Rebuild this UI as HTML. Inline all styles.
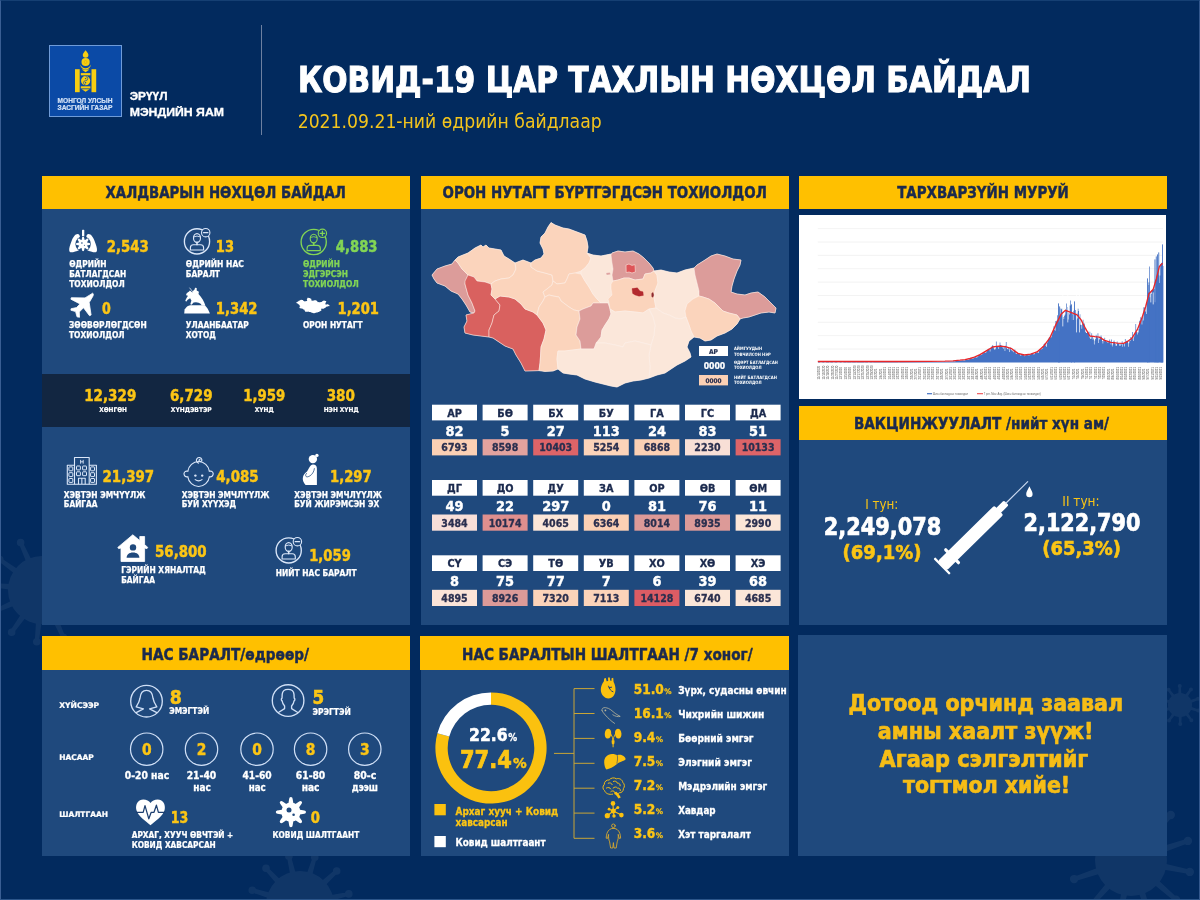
<!DOCTYPE html><html lang="mn"><head><meta charset="utf-8"><title>КОВИД-19 цар тахлын нөхцөл байдал</title><style>
*{margin:0;padding:0;box-sizing:border-box}
html,body{width:1200px;height:900px;overflow:hidden;background:#022a5e}
body{position:relative;font-family:'DejaVu Sans Condensed','DejaVu Sans',sans-serif;font-weight:bold}
.p{position:absolute;background:#1f497d}
.h{position:absolute;background:#ffc000;height:33.5px}
.band{position:absolute;left:42px;top:374px;width:368px;height:53px;background:#122641}
.logo{position:absolute;left:49px;top:45px;width:73px;height:72px;background:#0b4aa6;border:1px solid #6f9bd8}
.vline{position:absolute;left:260.5px;top:25px;width:1.5px;height:110px;background:#6d80a0}
.chart{position:absolute;left:799px;top:215px;width:367px;height:184px;background:#fff}
.frame{position:absolute;left:0;top:0;width:1200px;height:900px;border-style:solid;border-width:1px;border-color:#153f73 #34588d #2c5589 #3a5e93;pointer-events:none}
svg#ov{position:absolute;left:0;top:0}
svg#ov text{font-family:'DejaVu Sans Condensed','DejaVu Sans',sans-serif;font-weight:bold}
</style></head><body>
<svg style="position:absolute;left:0;top:0" width="1200" height="900" viewBox="0 0 1200 900"><g opacity="0.055">
<path d="M1158.59 868.86L1189.37 874.08L1190.24 869.76L1159.86 862.59ZM1189.80 871.92m-4.20 0a4.20 4.20 0 1 0 8.40 0a4.20 4.20 0 1 0 -8.40 0zM1150.46 881.47L1174.51 901.37L1177.42 898.08L1154.70 876.67ZM1175.97 899.73m-4.20 0a4.20 4.20 0 1 0 8.40 0a4.20 4.20 0 1 0 -8.40 0zM1137.12 888.32L1147.99 917.59L1152.16 916.19L1143.19 886.29ZM1150.08 916.89m-4.20 0a4.20 4.20 0 1 0 8.40 0a4.20 4.20 0 1 0 -8.40 0zM1122.14 887.59L1116.92 918.37L1121.24 919.24L1128.41 888.86ZM1119.08 918.80m-4.20 0a4.20 4.20 0 1 0 8.40 0a4.20 4.20 0 1 0 -8.40 0zM1109.53 879.46L1089.63 903.51L1092.92 906.42L1114.33 883.70ZM1091.27 904.97m-4.20 0a4.20 4.20 0 1 0 8.40 0a4.20 4.20 0 1 0 -8.40 0zM1102.68 866.12L1073.41 876.99L1074.81 881.16L1104.71 872.19ZM1074.11 879.08m-4.20 0a4.20 4.20 0 1 0 8.40 0a4.20 4.20 0 1 0 -8.40 0zM1103.41 851.14L1072.63 845.92L1071.76 850.24L1102.14 857.41ZM1072.20 848.08m-4.20 0a4.20 4.20 0 1 0 8.40 0a4.20 4.20 0 1 0 -8.40 0zM1111.54 838.53L1087.49 818.63L1084.58 821.92L1107.30 843.33ZM1086.03 820.27m-4.20 0a4.20 4.20 0 1 0 8.40 0a4.20 4.20 0 1 0 -8.40 0zM1124.88 831.68L1114.01 802.41L1109.84 803.81L1118.81 833.71ZM1111.92 803.11m-4.20 0a4.20 4.20 0 1 0 8.40 0a4.20 4.20 0 1 0 -8.40 0zM1139.86 832.41L1145.08 801.63L1140.76 800.76L1133.59 831.14ZM1142.92 801.20m-4.20 0a4.20 4.20 0 1 0 8.40 0a4.20 4.20 0 1 0 -8.40 0zM1152.47 840.54L1172.37 816.49L1169.08 813.58L1147.67 836.30ZM1170.73 815.03m-4.20 0a4.20 4.20 0 1 0 8.40 0a4.20 4.20 0 1 0 -8.40 0zM1159.32 853.88L1188.59 843.01L1187.19 838.84L1157.29 847.81ZM1187.89 840.92m-4.20 0a4.20 4.20 0 1 0 8.40 0a4.20 4.20 0 1 0 -8.40 0z" fill="#fff"/>
<circle cx="1131.00" cy="860.00" r="36.00" fill="#fff"/>
<path d="M68.76 595.70L93.54 597.18L93.94 593.20L69.36 589.73ZM93.74 595.19m-3.80 0a3.80 3.80 0 1 0 7.60 0a3.80 3.80 0 1 0 -7.60 0zM62.33 608.32L83.04 621.99L85.38 618.74L65.83 603.45ZM84.21 620.37m-3.80 0a3.80 3.80 0 1 0 7.60 0a3.80 3.80 0 1 0 -7.60 0zM50.45 616.03L61.55 638.23L65.20 636.58L55.92 613.56ZM63.37 637.40m-3.80 0a3.80 3.80 0 1 0 7.60 0a3.80 3.80 0 1 0 -7.60 0zM36.30 616.76L34.82 641.54L38.80 641.94L42.27 617.36ZM36.81 641.74m-3.80 0a3.80 3.80 0 1 0 7.60 0a3.80 3.80 0 1 0 -7.60 0zM23.68 610.33L10.01 631.04L13.26 633.38L28.55 613.83ZM11.63 632.21m-3.80 0a3.80 3.80 0 1 0 7.60 0a3.80 3.80 0 1 0 -7.60 0zM15.97 598.45L-6.23 609.55L-4.58 613.20L18.44 603.92ZM-5.40 611.37m-3.80 0a3.80 3.80 0 1 0 7.60 0a3.80 3.80 0 1 0 -7.60 0zM15.24 584.30L-9.54 582.82L-9.94 586.80L14.64 590.27ZM-9.74 584.81m-3.80 0a3.80 3.80 0 1 0 7.60 0a3.80 3.80 0 1 0 -7.60 0zM21.67 571.68L0.96 558.01L-1.38 561.26L18.17 576.55ZM-0.21 559.63m-3.80 0a3.80 3.80 0 1 0 7.60 0a3.80 3.80 0 1 0 -7.60 0zM33.55 563.97L22.45 541.77L18.80 543.42L28.08 566.44ZM20.63 542.60m-3.80 0a3.80 3.80 0 1 0 7.60 0a3.80 3.80 0 1 0 -7.60 0zM47.70 563.24L49.18 538.46L45.20 538.06L41.73 562.64ZM47.19 538.26m-3.80 0a3.80 3.80 0 1 0 7.60 0a3.80 3.80 0 1 0 -7.60 0zM60.32 569.67L73.99 548.96L70.74 546.62L55.45 566.17ZM72.37 547.79m-3.80 0a3.80 3.80 0 1 0 7.60 0a3.80 3.80 0 1 0 -7.60 0zM68.03 581.55L90.23 570.45L88.58 566.80L65.56 576.08ZM89.40 568.63m-3.80 0a3.80 3.80 0 1 0 7.60 0a3.80 3.80 0 1 0 -7.60 0z" fill="#fff"/>
<circle cx="42.00" cy="590.00" r="34.00" fill="#fff"/>
<path d="M325.10 915.90L347.18 921.69L348.36 917.87L326.87 910.17ZM347.77 919.78m-3.80 0a3.80 3.80 0 1 0 7.60 0a3.80 3.80 0 1 0 -7.60 0zM316.28 926.99L332.51 943.04L335.45 940.32L320.69 922.92ZM333.98 941.68m-3.80 0a3.80 3.80 0 1 0 7.60 0a3.80 3.80 0 1 0 -7.60 0zM303.11 932.19L309.14 954.20L313.04 953.31L308.96 930.86ZM311.09 953.76m-3.80 0a3.80 3.80 0 1 0 7.60 0a3.80 3.80 0 1 0 -7.60 0zM289.10 930.10L283.31 952.18L287.13 953.36L294.83 931.87ZM285.22 952.77m-3.80 0a3.80 3.80 0 1 0 7.60 0a3.80 3.80 0 1 0 -7.60 0zM278.01 921.28L261.96 937.51L264.68 940.45L282.08 925.69ZM263.32 938.98m-3.80 0a3.80 3.80 0 1 0 7.60 0a3.80 3.80 0 1 0 -7.60 0zM272.81 908.11L250.80 914.14L251.69 918.04L274.14 913.96ZM251.24 916.09m-3.80 0a3.80 3.80 0 1 0 7.60 0a3.80 3.80 0 1 0 -7.60 0zM274.90 894.10L252.82 888.31L251.64 892.13L273.13 899.83ZM252.23 890.22m-3.80 0a3.80 3.80 0 1 0 7.60 0a3.80 3.80 0 1 0 -7.60 0zM283.72 883.01L267.49 866.96L264.55 869.68L279.31 887.08ZM266.02 868.32m-3.80 0a3.80 3.80 0 1 0 7.60 0a3.80 3.80 0 1 0 -7.60 0zM296.89 877.81L290.86 855.80L286.96 856.69L291.04 879.14ZM288.91 856.24m-3.80 0a3.80 3.80 0 1 0 7.60 0a3.80 3.80 0 1 0 -7.60 0zM310.90 879.90L316.69 857.82L312.87 856.64L305.17 878.13ZM314.78 857.23m-3.80 0a3.80 3.80 0 1 0 7.60 0a3.80 3.80 0 1 0 -7.60 0zM321.99 888.72L338.04 872.49L335.32 869.55L317.92 884.31ZM336.68 871.02m-3.80 0a3.80 3.80 0 1 0 7.60 0a3.80 3.80 0 1 0 -7.60 0zM327.19 901.89L349.20 895.86L348.31 891.96L325.86 896.04ZM348.76 893.91m-3.80 0a3.80 3.80 0 1 0 7.60 0a3.80 3.80 0 1 0 -7.60 0z" fill="#fff"/>
<circle cx="300.00" cy="905.00" r="34.00" fill="#fff"/>
<path d="M1188.70 709.37L1197.83 711.67L1198.48 709.56L1189.64 706.31ZM1198.15 710.61m-2.00 0a2.00 2.00 0 1 0 4.00 0a2.00 2.00 0 1 0 -4.00 0zM1184.47 713.64L1190.50 720.87L1192.27 719.55L1187.03 711.73ZM1191.38 720.21m-2.00 0a2.00 2.00 0 1 0 4.00 0a2.00 2.00 0 1 0 -4.00 0zM1178.54 714.62L1179.17 724.01L1181.37 723.98L1181.74 714.58ZM1180.27 724.00m-2.00 0a2.00 2.00 0 1 0 4.00 0a2.00 2.00 0 1 0 -4.00 0zM1173.16 711.92L1168.15 719.89L1169.95 721.16L1175.78 713.77ZM1169.05 720.53m-2.00 0a2.00 2.00 0 1 0 4.00 0a2.00 2.00 0 1 0 -4.00 0zM1170.40 706.58L1161.66 710.09L1162.37 712.17L1171.43 709.61ZM1162.01 711.13m-2.00 0a2.00 2.00 0 1 0 4.00 0a2.00 2.00 0 1 0 -4.00 0zM1171.30 700.63L1162.17 698.33L1161.52 700.44L1170.36 703.69ZM1161.85 699.39m-2.00 0a2.00 2.00 0 1 0 4.00 0a2.00 2.00 0 1 0 -4.00 0zM1175.53 696.36L1169.50 689.13L1167.73 690.45L1172.97 698.27ZM1168.62 689.79m-2.00 0a2.00 2.00 0 1 0 4.00 0a2.00 2.00 0 1 0 -4.00 0zM1181.46 695.38L1180.83 685.99L1178.63 686.02L1178.26 695.42ZM1179.73 686.00m-2.00 0a2.00 2.00 0 1 0 4.00 0a2.00 2.00 0 1 0 -4.00 0zM1186.84 698.08L1191.85 690.11L1190.05 688.84L1184.22 696.23ZM1190.95 689.47m-2.00 0a2.00 2.00 0 1 0 4.00 0a2.00 2.00 0 1 0 -4.00 0zM1189.60 703.42L1198.34 699.91L1197.63 697.83L1188.57 700.39ZM1197.99 698.87m-2.00 0a2.00 2.00 0 1 0 4.00 0a2.00 2.00 0 1 0 -4.00 0z" fill="#fff"/>
<circle cx="1180.00" cy="705.00" r="12.00" fill="#fff"/>
</g></svg>
<div class="logo"></div><div class="vline"></div>
<div class="h" style="left:42px;top:176px;width:368px;height:33px"></div>
<div class="p" style="left:42px;top:209px;width:368px;height:416px"></div><div class="band"></div>
<div class="h" style="left:421px;top:176px;width:368px;height:33px"></div>
<div class="p" style="left:421px;top:209px;width:368px;height:416px"></div>
<div class="h" style="left:799px;top:176px;width:368px;height:33px"></div>
<div class="chart"></div>
<div class="h" style="left:799px;top:406px;width:368px;height:34px"></div>
<div class="p" style="left:799px;top:440px;width:368px;height:185px"></div>
<div class="h" style="left:42px;top:636px;width:368px;height:34px"></div>
<div class="p" style="left:42px;top:670px;width:368px;height:186px"></div>
<div class="h" style="left:420px;top:636px;width:369px;height:34px"></div>
<div class="p" style="left:421px;top:670px;width:368px;height:186px"></div>
<div class="p" style="left:798px;top:635px;width:369px;height:221px"></div>
<svg id="ov" width="1200" height="900" viewBox="0 0 1200 900">
<g id="panel-titles">
<text x="105.6" y="198.2" font-size="16" fill="#1b2a4e" textLength="240.3" lengthAdjust="spacingAndGlyphs" stroke="#1b2a4e" stroke-width="0.45">ХАЛДВАРЫН НӨХЦӨЛ БАЙДАЛ</text>
<text x="442.5" y="198.2" font-size="16" fill="#1b2a4e" textLength="324.3" lengthAdjust="spacingAndGlyphs" stroke="#1b2a4e" stroke-width="0.45">ОРОН НУТАГТ БҮРТГЭГДСЭН ТОХИОЛДОЛ</text>
<text x="897.2" y="198.2" font-size="16" fill="#1b2a4e" textLength="171.6" lengthAdjust="spacingAndGlyphs" stroke="#1b2a4e" stroke-width="0.45">ТАРХВАРЗҮЙН МУРУЙ</text>
<text x="854.0" y="429.0" font-size="16" fill="#1b2a4e" textLength="255.0" lengthAdjust="spacingAndGlyphs" stroke="#1b2a4e" stroke-width="0.45">ВАКЦИНЖУУЛАЛТ /нийт хүн ам/</text>
<text x="141.5" y="660.1" font-size="16" fill="#1b2a4e" textLength="167.5" lengthAdjust="spacingAndGlyphs" stroke="#1b2a4e" stroke-width="0.45">НАС БАРАЛТ/өдрөөр/</text>
<text x="462.0" y="660.1" font-size="16" fill="#1b2a4e" textLength="290.6" lengthAdjust="spacingAndGlyphs" stroke="#1b2a4e" stroke-width="0.45">НАС БАРАЛТЫН ШАЛТГААН /7 хоног/</text>
</g>
<g id="header">
<text x="57.5" y="102.5" font-size="7.6" fill="#d3e2f6" textLength="55.0" lengthAdjust="spacingAndGlyphs" style="font-family:'Liberation Sans',sans-serif;" stroke="#d3e2f6" stroke-width="0.21">МОНГОЛ УЛСЫН</text>
<text x="57.5" y="110.3" font-size="7.6" fill="#d3e2f6" textLength="55.0" lengthAdjust="spacingAndGlyphs" style="font-family:'Liberation Sans',sans-serif;" stroke="#d3e2f6" stroke-width="0.21">ЗАСГИЙН ГАЗАР</text>
<text x="129.7" y="100.2" font-size="11.6" fill="#ffffff" textLength="37.8" lengthAdjust="spacingAndGlyphs" style="font-family:'Liberation Sans',sans-serif;" stroke="#ffffff" stroke-width="0.32">ЭРҮҮЛ</text>
<text x="129.7" y="115.8" font-size="11.6" fill="#ffffff" textLength="94.3" lengthAdjust="spacingAndGlyphs" style="font-family:'Liberation Sans',sans-serif;" stroke="#ffffff" stroke-width="0.32">МЭНДИЙН ЯАМ</text>
<text x="298.0" y="92.0" font-size="35.4" fill="#ffffff" textLength="733.0" lengthAdjust="spacingAndGlyphs" stroke="#ffffff" stroke-width="0.99">КОВИД-19 ЦАР ТАХЛЫН НӨХЦӨЛ БАЙДАЛ</text>
<text x="297.7" y="128.4" font-size="19.8" fill="#f3c41d" textLength="304.0" lengthAdjust="spacingAndGlyphs" style="font-weight:normal;">2021.09.21-ний өдрийн байдлаар</text>
</g>
<g id="left">
<text x="106.7" y="252.0" font-size="15.2" fill="#fbc515" textLength="42.0" lengthAdjust="spacingAndGlyphs" stroke="#fbc515" stroke-width="0.43">2,543</text>
<text x="215.8" y="252.0" font-size="15.2" fill="#fbc515" textLength="18.2" lengthAdjust="spacingAndGlyphs" stroke="#fbc515" stroke-width="0.43">13</text>
<text x="335.8" y="252.0" font-size="15.2" fill="#82d555" textLength="41.7" lengthAdjust="spacingAndGlyphs" stroke="#82d555" stroke-width="0.43">4,883</text>
<text x="102.0" y="313.5" font-size="15.2" fill="#fbc515" textLength="8.8" lengthAdjust="spacingAndGlyphs" stroke="#fbc515" stroke-width="0.43">0</text>
<text x="215.8" y="313.5" font-size="15.2" fill="#fbc515" textLength="41.7" lengthAdjust="spacingAndGlyphs" stroke="#fbc515" stroke-width="0.43">1,342</text>
<text x="337.5" y="313.5" font-size="15.2" fill="#fbc515" textLength="41.5" lengthAdjust="spacingAndGlyphs" stroke="#fbc515" stroke-width="0.43">1,201</text>
<text x="69.2" y="266.7" font-size="8.8" fill="#ffffff" textLength="37.2" lengthAdjust="spacingAndGlyphs" stroke="#ffffff" stroke-width="0.25">ӨДРИЙН</text>
<text x="69.2" y="276.7" font-size="8.8" fill="#ffffff" textLength="57.0" lengthAdjust="spacingAndGlyphs" stroke="#ffffff" stroke-width="0.25">БАТЛАГДСАН</text>
<text x="69.2" y="286.7" font-size="8.8" fill="#ffffff" textLength="55.5" lengthAdjust="spacingAndGlyphs" stroke="#ffffff" stroke-width="0.25">ТОХИОЛДОЛ</text>
<text x="185.8" y="266.7" font-size="8.8" fill="#ffffff" textLength="58.0" lengthAdjust="spacingAndGlyphs" stroke="#ffffff" stroke-width="0.25">ӨДРИЙН НАС</text>
<text x="185.8" y="276.7" font-size="8.8" fill="#ffffff" textLength="34.2" lengthAdjust="spacingAndGlyphs" stroke="#ffffff" stroke-width="0.25">БАРАЛТ</text>
<text x="303.0" y="266.7" font-size="8.8" fill="#82d555" textLength="37.0" lengthAdjust="spacingAndGlyphs" stroke="#82d555" stroke-width="0.25">ӨДРИЙН</text>
<text x="303.0" y="276.7" font-size="8.8" fill="#82d555" textLength="45.0" lengthAdjust="spacingAndGlyphs" stroke="#82d555" stroke-width="0.25">ЭДГЭРСЭН</text>
<text x="303.0" y="286.7" font-size="8.8" fill="#82d555" textLength="55.7" lengthAdjust="spacingAndGlyphs" stroke="#82d555" stroke-width="0.25">ТОХИОЛДОЛ</text>
<text x="69.0" y="328.0" font-size="8.8" fill="#ffffff" textLength="77.7" lengthAdjust="spacingAndGlyphs" stroke="#ffffff" stroke-width="0.25">ЗӨӨВӨРЛӨГДСӨН</text>
<text x="69.0" y="338.0" font-size="8.8" fill="#ffffff" textLength="55.5" lengthAdjust="spacingAndGlyphs" stroke="#ffffff" stroke-width="0.25">ТОХИОЛДОЛ</text>
<text x="185.8" y="328.0" font-size="8.8" fill="#ffffff" textLength="62.9" lengthAdjust="spacingAndGlyphs" stroke="#ffffff" stroke-width="0.25">УЛААНБААТАР</text>
<text x="185.8" y="338.0" font-size="8.8" fill="#ffffff" textLength="30.0" lengthAdjust="spacingAndGlyphs" stroke="#ffffff" stroke-width="0.25">ХОТОД</text>
<text x="303.0" y="328.0" font-size="8.8" fill="#ffffff" textLength="59.5" lengthAdjust="spacingAndGlyphs" stroke="#ffffff" stroke-width="0.25">ОРОН НУТАГТ</text>
<text x="84.2" y="400.8" font-size="15" fill="#fbc515" textLength="52.1" lengthAdjust="spacingAndGlyphs" stroke="#fbc515" stroke-width="0.42">12,329</text>
<text x="170.0" y="400.8" font-size="15" fill="#fbc515" textLength="42.5" lengthAdjust="spacingAndGlyphs" stroke="#fbc515" stroke-width="0.42">6,729</text>
<text x="243.3" y="400.8" font-size="15" fill="#fbc515" textLength="42.0" lengthAdjust="spacingAndGlyphs" stroke="#fbc515" stroke-width="0.42">1,959</text>
<text x="326.7" y="400.8" font-size="15" fill="#fbc515" textLength="28.3" lengthAdjust="spacingAndGlyphs" stroke="#fbc515" stroke-width="0.42">380</text>
<text x="99.2" y="412.0" font-size="6.6" fill="#ffffff" textLength="27.8" lengthAdjust="spacingAndGlyphs" stroke="#ffffff" stroke-width="0.18">ХӨНГӨН</text>
<text x="170.8" y="412.0" font-size="6.6" fill="#ffffff" textLength="40.9" lengthAdjust="spacingAndGlyphs" stroke="#ffffff" stroke-width="0.18">ХҮНДЭВТЭР</text>
<text x="254.7" y="412.0" font-size="6.6" fill="#ffffff" textLength="19.0" lengthAdjust="spacingAndGlyphs" stroke="#ffffff" stroke-width="0.18">ХҮНД</text>
<text x="323.7" y="412.0" font-size="6.6" fill="#ffffff" textLength="35.0" lengthAdjust="spacingAndGlyphs" stroke="#ffffff" stroke-width="0.18">НЭН ХҮНД</text>
<text x="102.5" y="481.7" font-size="15.2" fill="#fbc515" textLength="51.7" lengthAdjust="spacingAndGlyphs" stroke="#fbc515" stroke-width="0.43">21,397</text>
<text x="216.3" y="481.7" font-size="15.2" fill="#fbc515" textLength="42.4" lengthAdjust="spacingAndGlyphs" stroke="#fbc515" stroke-width="0.43">4,085</text>
<text x="330.0" y="481.7" font-size="15.2" fill="#fbc515" textLength="41.7" lengthAdjust="spacingAndGlyphs" stroke="#fbc515" stroke-width="0.43">1,297</text>
<text x="63.8" y="497.5" font-size="8.8" fill="#ffffff" textLength="81.5" lengthAdjust="spacingAndGlyphs" stroke="#ffffff" stroke-width="0.25">ХЭВТЭН ЭМЧҮҮЛЖ</text>
<text x="63.8" y="507.2" font-size="8.8" fill="#ffffff" textLength="33.7" lengthAdjust="spacingAndGlyphs" stroke="#ffffff" stroke-width="0.25">БАЙГАА</text>
<text x="181.7" y="497.5" font-size="8.8" fill="#ffffff" textLength="87.8" lengthAdjust="spacingAndGlyphs" stroke="#ffffff" stroke-width="0.25">ХЭВТЭН ЭМЧЛҮҮЛЖ</text>
<text x="181.7" y="507.2" font-size="8.8" fill="#ffffff" textLength="54.5" lengthAdjust="spacingAndGlyphs" stroke="#ffffff" stroke-width="0.25">БУЙ ХҮҮХЭД</text>
<text x="294.2" y="497.5" font-size="8.8" fill="#ffffff" textLength="87.8" lengthAdjust="spacingAndGlyphs" stroke="#ffffff" stroke-width="0.25">ХЭВТЭН ЭМЧЛҮҮЛЖ</text>
<text x="294.2" y="507.2" font-size="8.8" fill="#ffffff" textLength="85.0" lengthAdjust="spacingAndGlyphs" stroke="#ffffff" stroke-width="0.25">БУЙ ЖИРЭМСЭН ЭХ</text>
<text x="155.0" y="557.0" font-size="15.2" fill="#fbc515" textLength="51.7" lengthAdjust="spacingAndGlyphs" stroke="#fbc515" stroke-width="0.43">56,800</text>
<text x="121.2" y="573.3" font-size="8.8" fill="#ffffff" textLength="84.6" lengthAdjust="spacingAndGlyphs" stroke="#ffffff" stroke-width="0.25">ГЭРИЙН ХЯНАЛТАД</text>
<text x="121.2" y="583.0" font-size="8.8" fill="#ffffff" textLength="33.8" lengthAdjust="spacingAndGlyphs" stroke="#ffffff" stroke-width="0.25">БАЙГАА</text>
<text x="309.2" y="561.3" font-size="15.2" fill="#fbc515" textLength="41.6" lengthAdjust="spacingAndGlyphs" stroke="#fbc515" stroke-width="0.43">1,059</text>
<text x="275.8" y="575.8" font-size="8.8" fill="#ffffff" textLength="80.9" lengthAdjust="spacingAndGlyphs" stroke="#ffffff" stroke-width="0.25">НИЙТ НАС БАРАЛТ</text>
</g>
<g id="deaths">
<text x="59.2" y="708.0" font-size="7.9" fill="#ffffff" textLength="40.0" lengthAdjust="spacingAndGlyphs" stroke="#ffffff" stroke-width="0.22">ХҮЙСЭЭР</text>
<text x="59.2" y="760.0" font-size="7.9" fill="#ffffff" textLength="34.5" lengthAdjust="spacingAndGlyphs" stroke="#ffffff" stroke-width="0.22">НАСААР</text>
<text x="59.2" y="816.7" font-size="7.9" fill="#ffffff" textLength="48.8" lengthAdjust="spacingAndGlyphs" stroke="#ffffff" stroke-width="0.22">ШАЛТГААН</text>
<text x="169.7" y="703.7" font-size="19" fill="#fbc515" textLength="12.0" lengthAdjust="spacingAndGlyphs" stroke="#fbc515" stroke-width="0.53">8</text>
<text x="169.2" y="714.4" font-size="8.7" fill="#ffffff" textLength="40.0" lengthAdjust="spacingAndGlyphs" stroke="#ffffff" stroke-width="0.24">ЭМЭГТЭЙ</text>
<text x="312.5" y="703.7" font-size="19" fill="#fbc515" textLength="11.7" lengthAdjust="spacingAndGlyphs" stroke="#fbc515" stroke-width="0.53">5</text>
<text x="312.5" y="714.8" font-size="8.7" fill="#ffffff" textLength="38.3" lengthAdjust="spacingAndGlyphs" stroke="#ffffff" stroke-width="0.24">ЭРЭГТЭЙ</text>
<text x="146.7" y="755.4" font-size="15.4" fill="#fbc515" text-anchor="middle" stroke="#fbc515" stroke-width="0.43">0</text>
<text x="201.5" y="755.4" font-size="15.4" fill="#fbc515" text-anchor="middle" stroke="#fbc515" stroke-width="0.43">2</text>
<text x="257.0" y="755.4" font-size="15.4" fill="#fbc515" text-anchor="middle" stroke="#fbc515" stroke-width="0.43">0</text>
<text x="310.6" y="755.4" font-size="15.4" fill="#fbc515" text-anchor="middle" stroke="#fbc515" stroke-width="0.43">8</text>
<text x="364.8" y="755.4" font-size="15.4" fill="#fbc515" text-anchor="middle" stroke="#fbc515" stroke-width="0.43">3</text>
<text x="124.7" y="779.0" font-size="10" fill="#ffffff" textLength="44.5" lengthAdjust="spacingAndGlyphs" stroke="#ffffff" stroke-width="0.28">0-20 нас</text>
<text x="186.7" y="779.0" font-size="10" fill="#ffffff" textLength="29.6" lengthAdjust="spacingAndGlyphs" stroke="#ffffff" stroke-width="0.28">21-40</text>
<text x="242.5" y="779.0" font-size="10" fill="#ffffff" textLength="29.2" lengthAdjust="spacingAndGlyphs" stroke="#ffffff" stroke-width="0.28">41-60</text>
<text x="295.8" y="779.0" font-size="10" fill="#ffffff" textLength="29.5" lengthAdjust="spacingAndGlyphs" stroke="#ffffff" stroke-width="0.28">61-80</text>
<text x="353.8" y="779.0" font-size="10" fill="#ffffff" textLength="22.5" lengthAdjust="spacingAndGlyphs" stroke="#ffffff" stroke-width="0.28">80-с</text>
<text x="193.3" y="790.8" font-size="10" fill="#ffffff" textLength="17.5" lengthAdjust="spacingAndGlyphs" stroke="#ffffff" stroke-width="0.28">нас</text>
<text x="248.7" y="790.8" font-size="10" fill="#ffffff" textLength="17.1" lengthAdjust="spacingAndGlyphs" stroke="#ffffff" stroke-width="0.28">нас</text>
<text x="301.7" y="790.8" font-size="10" fill="#ffffff" textLength="17.8" lengthAdjust="spacingAndGlyphs" stroke="#ffffff" stroke-width="0.28">нас</text>
<text x="351.7" y="790.8" font-size="10" fill="#ffffff" textLength="26.3" lengthAdjust="spacingAndGlyphs" stroke="#ffffff" stroke-width="0.28">дээш</text>
<text x="170.8" y="822.5" font-size="15" fill="#fbc515" textLength="17.5" lengthAdjust="spacingAndGlyphs" stroke="#fbc515" stroke-width="0.42">13</text>
<text x="310.8" y="822.5" font-size="15" fill="#fbc515" textLength="9.2" lengthAdjust="spacingAndGlyphs" stroke="#fbc515" stroke-width="0.42">0</text>
<text x="131.7" y="838.3" font-size="8.7" fill="#ffffff" textLength="101.6" lengthAdjust="spacingAndGlyphs" stroke="#ffffff" stroke-width="0.24">АРХАГ, ХУУЧ ӨВЧТЭЙ +</text>
<text x="131.7" y="848.0" font-size="8.7" fill="#ffffff" textLength="84.1" lengthAdjust="spacingAndGlyphs" stroke="#ffffff" stroke-width="0.24">КОВИД ХАВСАРСАН</text>
<text x="272.5" y="838.0" font-size="8.7" fill="#ffffff" textLength="86.7" lengthAdjust="spacingAndGlyphs" stroke="#ffffff" stroke-width="0.24">КОВИД ШАЛТГААНТ</text>
</g>
<g id="causes">
<text x="469.0" y="740.7" font-size="18.4" fill="#ffffff" textLength="38.6" lengthAdjust="spacingAndGlyphs" stroke="#ffffff" stroke-width="0.52">22.6</text>
<text x="508.2" y="740.7" font-size="10" fill="#ffffff" textLength="8.9" lengthAdjust="spacingAndGlyphs" stroke="#ffffff" stroke-width="0.28">%</text>
<text x="460.0" y="768.2" font-size="24.6" fill="#fbc515" textLength="51.8" lengthAdjust="spacingAndGlyphs" stroke="#fbc515" stroke-width="0.69">77.4</text>
<text x="512.9" y="768.2" font-size="14.6" fill="#fbc515" textLength="13.7" lengthAdjust="spacingAndGlyphs" stroke="#fbc515" stroke-width="0.41">%</text>
<text x="455.5" y="814.6" font-size="11" fill="#fbc515" textLength="102.8" lengthAdjust="spacingAndGlyphs" stroke="#fbc515" stroke-width="0.31">Архаг хууч + Ковид</text>
<text x="455.5" y="826.2" font-size="11" fill="#fbc515" textLength="52.1" lengthAdjust="spacingAndGlyphs" stroke="#fbc515" stroke-width="0.31">хавсарсан</text>
<text x="455.5" y="846.3" font-size="11" fill="#ffffff" textLength="90.1" lengthAdjust="spacingAndGlyphs" stroke="#ffffff" stroke-width="0.31">Ковид шалтгаант</text>
<text x="633.7" y="693.6" font-size="13.6" fill="#fbc515" textLength="30.2" lengthAdjust="spacingAndGlyphs" stroke="#fbc515" stroke-width="0.38">51.0</text>
<text x="664.2" y="693.6" font-size="7.6" fill="#fbc515" textLength="7.3" lengthAdjust="spacingAndGlyphs" stroke="#fbc515" stroke-width="0.21">%</text>
<text x="678.2" y="693.6" font-size="11.1" fill="#ffffff" textLength="108.5" lengthAdjust="spacingAndGlyphs" stroke="#ffffff" stroke-width="0.31">Зүрх, судасны өвчин</text>
<text x="633.7" y="717.7" font-size="13.6" fill="#fbc515" textLength="30.2" lengthAdjust="spacingAndGlyphs" stroke="#fbc515" stroke-width="0.38">16.1</text>
<text x="664.2" y="717.7" font-size="7.6" fill="#fbc515" textLength="7.3" lengthAdjust="spacingAndGlyphs" stroke="#fbc515" stroke-width="0.21">%</text>
<text x="678.2" y="717.7" font-size="11.1" fill="#ffffff" textLength="86.0" lengthAdjust="spacingAndGlyphs" stroke="#ffffff" stroke-width="0.31">Чихрийн шижин</text>
<text x="633.7" y="741.8" font-size="13.6" fill="#fbc515" textLength="21.7" lengthAdjust="spacingAndGlyphs" stroke="#fbc515" stroke-width="0.38">9.4</text>
<text x="655.7" y="741.8" font-size="7.6" fill="#fbc515" textLength="7.3" lengthAdjust="spacingAndGlyphs" stroke="#fbc515" stroke-width="0.21">%</text>
<text x="678.2" y="741.8" font-size="11.1" fill="#ffffff" textLength="75.4" lengthAdjust="spacingAndGlyphs" stroke="#ffffff" stroke-width="0.31">Бөөрний эмгэг</text>
<text x="633.7" y="765.9" font-size="13.6" fill="#fbc515" textLength="21.7" lengthAdjust="spacingAndGlyphs" stroke="#fbc515" stroke-width="0.38">7.5</text>
<text x="655.7" y="765.9" font-size="7.6" fill="#fbc515" textLength="7.3" lengthAdjust="spacingAndGlyphs" stroke="#fbc515" stroke-width="0.21">%</text>
<text x="678.2" y="765.9" font-size="11.1" fill="#ffffff" textLength="73.8" lengthAdjust="spacingAndGlyphs" stroke="#ffffff" stroke-width="0.31">Элэгний эмгэг</text>
<text x="633.7" y="790.0" font-size="13.6" fill="#fbc515" textLength="21.7" lengthAdjust="spacingAndGlyphs" stroke="#fbc515" stroke-width="0.38">7.2</text>
<text x="655.7" y="790.0" font-size="7.6" fill="#fbc515" textLength="7.3" lengthAdjust="spacingAndGlyphs" stroke="#fbc515" stroke-width="0.21">%</text>
<text x="678.2" y="790.0" font-size="11.1" fill="#ffffff" textLength="89.1" lengthAdjust="spacingAndGlyphs" stroke="#ffffff" stroke-width="0.31">Мэдрэлийн эмгэг</text>
<text x="633.7" y="814.1" font-size="13.6" fill="#fbc515" textLength="21.7" lengthAdjust="spacingAndGlyphs" stroke="#fbc515" stroke-width="0.38">5.2</text>
<text x="655.7" y="814.1" font-size="7.6" fill="#fbc515" textLength="7.3" lengthAdjust="spacingAndGlyphs" stroke="#fbc515" stroke-width="0.21">%</text>
<text x="678.2" y="814.1" font-size="11.1" fill="#ffffff" textLength="37.4" lengthAdjust="spacingAndGlyphs" stroke="#ffffff" stroke-width="0.31">Хавдар</text>
<text x="633.7" y="838.2" font-size="13.6" fill="#fbc515" textLength="21.7" lengthAdjust="spacingAndGlyphs" stroke="#fbc515" stroke-width="0.38">3.6</text>
<text x="655.7" y="838.2" font-size="7.6" fill="#fbc515" textLength="7.3" lengthAdjust="spacingAndGlyphs" stroke="#fbc515" stroke-width="0.21">%</text>
<text x="678.2" y="838.2" font-size="11.1" fill="#ffffff" textLength="72.7" lengthAdjust="spacingAndGlyphs" stroke="#ffffff" stroke-width="0.31">Хэт таргалалт</text>
</g>
<g id="right">
<text x="881.8" y="509.3" font-size="13.6" fill="#fbc515" text-anchor="middle" textLength="33.2" lengthAdjust="spacingAndGlyphs" style="font-weight:normal;">I тун:</text>
<text x="823.8" y="534.7" font-size="24" fill="#ffffff" textLength="117.4" lengthAdjust="spacingAndGlyphs" stroke="#ffffff" stroke-width="0.67">2,249,078</text>
<text x="842.6" y="558.5" font-size="19.4" fill="#fbc515" textLength="79.0" lengthAdjust="spacingAndGlyphs" stroke="#fbc515" stroke-width="0.54">(69,1%)</text>
<text x="1081.0" y="505.8" font-size="13.6" fill="#fbc515" text-anchor="middle" textLength="37.3" lengthAdjust="spacingAndGlyphs" style="font-weight:normal;">II тун:</text>
<text x="1023.6" y="531.3" font-size="24" fill="#ffffff" textLength="116.8" lengthAdjust="spacingAndGlyphs" stroke="#ffffff" stroke-width="0.67">2,122,790</text>
<text x="1042.3" y="554.8" font-size="19.4" fill="#fbc515" textLength="78.7" lengthAdjust="spacingAndGlyphs" stroke="#fbc515" stroke-width="0.54">(65,3%)</text>
<text x="848.6" y="711.3" font-size="23" fill="#f6bd16" textLength="274.6" lengthAdjust="spacingAndGlyphs" stroke="#f6bd16" stroke-width="0.64">Дотоод орчинд заавал</text>
<text x="877.8" y="738.5" font-size="23" fill="#f6bd16" textLength="215.7" lengthAdjust="spacingAndGlyphs" stroke="#f6bd16" stroke-width="0.64">амны хаалт зүүж!</text>
<text x="879.6" y="766.9" font-size="23" fill="#f6bd16" textLength="208.7" lengthAdjust="spacingAndGlyphs" stroke="#f6bd16" stroke-width="0.64">Агаар сэлгэлтийг</text>
<text x="903.1" y="792.7" font-size="23" fill="#f6bd16" textLength="167.1" lengthAdjust="spacingAndGlyphs" stroke="#f6bd16" stroke-width="0.64">тогтмол хийе!</text>
</g>
<g id="aimag-table">
<rect x="432.0" y="404.7" width="45" height="15.7" fill="#fff"/>
<text x="454.5" y="416.7" font-size="10.8" fill="#1b2a4e" text-anchor="middle" stroke="#1b2a4e" stroke-width="0.30">АР</text>
<text x="454.5" y="435.8" font-size="14.4" fill="#ffffff" text-anchor="middle" stroke="#ffffff" stroke-width="0.40">82</text>
<rect x="432.0" y="439.2" width="45" height="16.2" fill="#fbd0b4"/>
<text x="454.5" y="451.3" font-size="10.5" fill="#2a2f4f" text-anchor="middle" stroke="#2a2f4f" stroke-width="0.29">6793</text>
<rect x="482.6" y="404.7" width="45" height="15.7" fill="#fff"/>
<text x="505.1" y="416.7" font-size="10.8" fill="#1b2a4e" text-anchor="middle" stroke="#1b2a4e" stroke-width="0.30">БӨ</text>
<text x="505.1" y="435.8" font-size="14.4" fill="#ffffff" text-anchor="middle" stroke="#ffffff" stroke-width="0.40">5</text>
<rect x="482.6" y="439.2" width="45" height="16.2" fill="#e2a29e"/>
<text x="505.1" y="451.3" font-size="10.5" fill="#2a2f4f" text-anchor="middle" stroke="#2a2f4f" stroke-width="0.29">8598</text>
<rect x="533.2" y="404.7" width="45" height="15.7" fill="#fff"/>
<text x="555.7" y="416.7" font-size="10.8" fill="#1b2a4e" text-anchor="middle" stroke="#1b2a4e" stroke-width="0.30">БХ</text>
<text x="555.7" y="435.8" font-size="14.4" fill="#ffffff" text-anchor="middle" stroke="#ffffff" stroke-width="0.40">27</text>
<rect x="533.2" y="439.2" width="45" height="16.2" fill="#dd6468"/>
<text x="555.7" y="451.3" font-size="10.5" fill="#2a2f4f" text-anchor="middle" stroke="#2a2f4f" stroke-width="0.29">10403</text>
<rect x="583.8" y="404.7" width="45" height="15.7" fill="#fff"/>
<text x="606.3" y="416.7" font-size="10.8" fill="#1b2a4e" text-anchor="middle" stroke="#1b2a4e" stroke-width="0.30">БУ</text>
<text x="606.3" y="435.8" font-size="14.4" fill="#ffffff" text-anchor="middle" stroke="#ffffff" stroke-width="0.40">113</text>
<rect x="583.8" y="439.2" width="45" height="16.2" fill="#fbd3b9"/>
<text x="606.3" y="451.3" font-size="10.5" fill="#2a2f4f" text-anchor="middle" stroke="#2a2f4f" stroke-width="0.29">5254</text>
<rect x="634.4" y="404.7" width="45" height="15.7" fill="#fff"/>
<text x="656.9" y="416.7" font-size="10.8" fill="#1b2a4e" text-anchor="middle" stroke="#1b2a4e" stroke-width="0.30">ГА</text>
<text x="656.9" y="435.8" font-size="14.4" fill="#ffffff" text-anchor="middle" stroke="#ffffff" stroke-width="0.40">24</text>
<rect x="634.4" y="439.2" width="45" height="16.2" fill="#fbd0b4"/>
<text x="656.9" y="451.3" font-size="10.5" fill="#2a2f4f" text-anchor="middle" stroke="#2a2f4f" stroke-width="0.29">6868</text>
<rect x="685.0" y="404.7" width="45" height="15.7" fill="#fff"/>
<text x="707.5" y="416.7" font-size="10.8" fill="#1b2a4e" text-anchor="middle" stroke="#1b2a4e" stroke-width="0.30">ГС</text>
<text x="707.5" y="435.8" font-size="14.4" fill="#ffffff" text-anchor="middle" stroke="#ffffff" stroke-width="0.40">83</text>
<rect x="685.0" y="439.2" width="45" height="16.2" fill="#f8dfd6"/>
<text x="707.5" y="451.3" font-size="10.5" fill="#2a2f4f" text-anchor="middle" stroke="#2a2f4f" stroke-width="0.29">2230</text>
<rect x="735.6" y="404.7" width="45" height="15.7" fill="#fff"/>
<text x="758.1" y="416.7" font-size="10.8" fill="#1b2a4e" text-anchor="middle" stroke="#1b2a4e" stroke-width="0.30">ДА</text>
<text x="758.1" y="435.8" font-size="14.4" fill="#ffffff" text-anchor="middle" stroke="#ffffff" stroke-width="0.40">51</text>
<rect x="735.6" y="439.2" width="45" height="16.2" fill="#dd6468"/>
<text x="758.1" y="451.3" font-size="10.5" fill="#2a2f4f" text-anchor="middle" stroke="#2a2f4f" stroke-width="0.29">10133</text>
<rect x="432.0" y="480.0" width="45" height="15.7" fill="#fff"/>
<text x="454.5" y="492.0" font-size="10.8" fill="#1b2a4e" text-anchor="middle" stroke="#1b2a4e" stroke-width="0.30">ДГ</text>
<text x="454.5" y="511.1" font-size="14.4" fill="#ffffff" text-anchor="middle" stroke="#ffffff" stroke-width="0.40">49</text>
<rect x="432.0" y="514.5" width="45" height="16.2" fill="#f8dfd8"/>
<text x="454.5" y="526.6" font-size="10.5" fill="#2a2f4f" text-anchor="middle" stroke="#2a2f4f" stroke-width="0.29">3484</text>
<rect x="482.6" y="480.0" width="45" height="15.7" fill="#fff"/>
<text x="505.1" y="492.0" font-size="10.8" fill="#1b2a4e" text-anchor="middle" stroke="#1b2a4e" stroke-width="0.30">ДО</text>
<text x="505.1" y="511.1" font-size="14.4" fill="#ffffff" text-anchor="middle" stroke="#ffffff" stroke-width="0.40">22</text>
<rect x="482.6" y="514.5" width="45" height="16.2" fill="#df8f8e"/>
<text x="505.1" y="526.6" font-size="10.5" fill="#2a2f4f" text-anchor="middle" stroke="#2a2f4f" stroke-width="0.29">10174</text>
<rect x="533.2" y="480.0" width="45" height="15.7" fill="#fff"/>
<text x="555.7" y="492.0" font-size="10.8" fill="#1b2a4e" text-anchor="middle" stroke="#1b2a4e" stroke-width="0.30">ДУ</text>
<text x="555.7" y="511.1" font-size="14.4" fill="#ffffff" text-anchor="middle" stroke="#ffffff" stroke-width="0.40">297</text>
<rect x="533.2" y="514.5" width="45" height="16.2" fill="#fbe6d8"/>
<text x="555.7" y="526.6" font-size="10.5" fill="#2a2f4f" text-anchor="middle" stroke="#2a2f4f" stroke-width="0.29">4065</text>
<rect x="583.8" y="480.0" width="45" height="15.7" fill="#fff"/>
<text x="606.3" y="492.0" font-size="10.8" fill="#1b2a4e" text-anchor="middle" stroke="#1b2a4e" stroke-width="0.30">ЗА</text>
<text x="606.3" y="511.1" font-size="14.4" fill="#ffffff" text-anchor="middle" stroke="#ffffff" stroke-width="0.40">0</text>
<rect x="583.8" y="514.5" width="45" height="16.2" fill="#fbd0b4"/>
<text x="606.3" y="526.6" font-size="10.5" fill="#2a2f4f" text-anchor="middle" stroke="#2a2f4f" stroke-width="0.29">6364</text>
<rect x="634.4" y="480.0" width="45" height="15.7" fill="#fff"/>
<text x="656.9" y="492.0" font-size="10.8" fill="#1b2a4e" text-anchor="middle" stroke="#1b2a4e" stroke-width="0.30">ОР</text>
<text x="656.9" y="511.1" font-size="14.4" fill="#ffffff" text-anchor="middle" stroke="#ffffff" stroke-width="0.40">81</text>
<rect x="634.4" y="514.5" width="45" height="16.2" fill="#dc9a98"/>
<text x="656.9" y="526.6" font-size="10.5" fill="#2a2f4f" text-anchor="middle" stroke="#2a2f4f" stroke-width="0.29">8014</text>
<rect x="685.0" y="480.0" width="45" height="15.7" fill="#fff"/>
<text x="707.5" y="492.0" font-size="10.8" fill="#1b2a4e" text-anchor="middle" stroke="#1b2a4e" stroke-width="0.30">ӨВ</text>
<text x="707.5" y="511.1" font-size="14.4" fill="#ffffff" text-anchor="middle" stroke="#ffffff" stroke-width="0.40">76</text>
<rect x="685.0" y="514.5" width="45" height="16.2" fill="#dc9a98"/>
<text x="707.5" y="526.6" font-size="10.5" fill="#2a2f4f" text-anchor="middle" stroke="#2a2f4f" stroke-width="0.29">8935</text>
<rect x="735.6" y="480.0" width="45" height="15.7" fill="#fff"/>
<text x="758.1" y="492.0" font-size="10.8" fill="#1b2a4e" text-anchor="middle" stroke="#1b2a4e" stroke-width="0.30">ӨМ</text>
<text x="758.1" y="511.1" font-size="14.4" fill="#ffffff" text-anchor="middle" stroke="#ffffff" stroke-width="0.40">11</text>
<rect x="735.6" y="514.5" width="45" height="16.2" fill="#fbe6d8"/>
<text x="758.1" y="526.6" font-size="10.5" fill="#2a2f4f" text-anchor="middle" stroke="#2a2f4f" stroke-width="0.29">2990</text>
<rect x="432.0" y="555.3" width="45" height="15.7" fill="#fff"/>
<text x="454.5" y="567.3" font-size="10.8" fill="#1b2a4e" text-anchor="middle" stroke="#1b2a4e" stroke-width="0.30">СҮ</text>
<text x="454.5" y="586.4" font-size="14.4" fill="#ffffff" text-anchor="middle" stroke="#ffffff" stroke-width="0.40">8</text>
<rect x="432.0" y="589.8" width="45" height="16.2" fill="#fbe4d8"/>
<text x="454.5" y="601.9" font-size="10.5" fill="#2a2f4f" text-anchor="middle" stroke="#2a2f4f" stroke-width="0.29">4895</text>
<rect x="482.6" y="555.3" width="45" height="15.7" fill="#fff"/>
<text x="505.1" y="567.3" font-size="10.8" fill="#1b2a4e" text-anchor="middle" stroke="#1b2a4e" stroke-width="0.30">СЭ</text>
<text x="505.1" y="586.4" font-size="14.4" fill="#ffffff" text-anchor="middle" stroke="#ffffff" stroke-width="0.40">75</text>
<rect x="482.6" y="589.8" width="45" height="16.2" fill="#dc9a98"/>
<text x="505.1" y="601.9" font-size="10.5" fill="#2a2f4f" text-anchor="middle" stroke="#2a2f4f" stroke-width="0.29">8926</text>
<rect x="533.2" y="555.3" width="45" height="15.7" fill="#fff"/>
<text x="555.7" y="567.3" font-size="10.8" fill="#1b2a4e" text-anchor="middle" stroke="#1b2a4e" stroke-width="0.30">ТӨ</text>
<text x="555.7" y="586.4" font-size="14.4" fill="#ffffff" text-anchor="middle" stroke="#ffffff" stroke-width="0.40">77</text>
<rect x="533.2" y="589.8" width="45" height="16.2" fill="#fbd3b9"/>
<text x="555.7" y="601.9" font-size="10.5" fill="#2a2f4f" text-anchor="middle" stroke="#2a2f4f" stroke-width="0.29">7320</text>
<rect x="583.8" y="555.3" width="45" height="15.7" fill="#fff"/>
<text x="606.3" y="567.3" font-size="10.8" fill="#1b2a4e" text-anchor="middle" stroke="#1b2a4e" stroke-width="0.30">УВ</text>
<text x="606.3" y="586.4" font-size="14.4" fill="#ffffff" text-anchor="middle" stroke="#ffffff" stroke-width="0.40">7</text>
<rect x="583.8" y="589.8" width="45" height="16.2" fill="#fbd3b9"/>
<text x="606.3" y="601.9" font-size="10.5" fill="#2a2f4f" text-anchor="middle" stroke="#2a2f4f" stroke-width="0.29">7113</text>
<rect x="634.4" y="555.3" width="45" height="15.7" fill="#fff"/>
<text x="656.9" y="567.3" font-size="10.8" fill="#1b2a4e" text-anchor="middle" stroke="#1b2a4e" stroke-width="0.30">ХО</text>
<text x="656.9" y="586.4" font-size="14.4" fill="#ffffff" text-anchor="middle" stroke="#ffffff" stroke-width="0.40">6</text>
<rect x="634.4" y="589.8" width="45" height="16.2" fill="#dc5c64"/>
<text x="656.9" y="601.9" font-size="10.5" fill="#2a2f4f" text-anchor="middle" stroke="#2a2f4f" stroke-width="0.29">14128</text>
<rect x="685.0" y="555.3" width="45" height="15.7" fill="#fff"/>
<text x="707.5" y="567.3" font-size="10.8" fill="#1b2a4e" text-anchor="middle" stroke="#1b2a4e" stroke-width="0.30">ХӨ</text>
<text x="707.5" y="586.4" font-size="14.4" fill="#ffffff" text-anchor="middle" stroke="#ffffff" stroke-width="0.40">39</text>
<rect x="685.0" y="589.8" width="45" height="16.2" fill="#fbe6d8"/>
<text x="707.5" y="601.9" font-size="10.5" fill="#2a2f4f" text-anchor="middle" stroke="#2a2f4f" stroke-width="0.29">6740</text>
<rect x="735.6" y="555.3" width="45" height="15.7" fill="#fff"/>
<text x="758.1" y="567.3" font-size="10.8" fill="#1b2a4e" text-anchor="middle" stroke="#1b2a4e" stroke-width="0.30">ХЭ</text>
<text x="758.1" y="586.4" font-size="14.4" fill="#ffffff" text-anchor="middle" stroke="#ffffff" stroke-width="0.40">68</text>
<rect x="735.6" y="589.8" width="45" height="16.2" fill="#fbe6d8"/>
<text x="758.1" y="601.9" font-size="10.5" fill="#2a2f4f" text-anchor="middle" stroke="#2a2f4f" stroke-width="0.29">4685</text>
</g>
<g id="map">
<path d="M432.0 275.0L437.0 269.0L445.0 266.0L452.0 264.0L455.0 260.0L458.0 257.0L468.0 253.0L475.0 248.0L481.0 245.0L483.0 247.0L486.0 245.0L489.0 248.0L501.0 250.0L504.0 256.0L509.0 259.0L515.0 263.0L523.0 260.0L531.0 263.0L535.0 260.0L541.0 258.0L544.0 254.0L543.0 249.0L540.0 243.0L541.0 237.0L545.0 233.0L548.0 227.0L551.0 222.6L555.0 225.0L563.0 228.0L569.0 229.0L577.0 232.0L585.0 235.0L587.0 241.0L588.0 247.0L587.0 253.0L593.0 255.0L601.0 256.0L611.0 254.0L611.0 255.0L612.0 253.0L618.0 251.0L625.0 252.0L633.0 251.0L639.0 254.0L644.0 258.0L649.0 263.0L653.0 268.0L654.0 271.0L661.0 270.0L669.0 272.0L677.0 273.0L685.0 270.0L694.0 268.0L697.0 265.0L705.0 260.0L711.0 256.0L717.0 254.0L725.0 256.0L733.0 259.0L741.0 260.0L740.0 265.0L737.0 271.0L734.0 279.0L732.0 286.0L731.0 292.0L737.0 294.0L745.0 295.0L751.0 293.0L758.0 292.0L765.0 297.0L771.0 303.0L776.0 308.0L775.0 313.0L769.0 312.0L761.0 313.0L755.0 315.0L749.0 317.0L743.0 318.0L740.0 319.0L737.0 324.0L732.0 329.0L725.0 333.0L717.0 336.0L711.0 340.0L705.0 341.0L700.0 338.0L694.0 337.0L689.0 341.0L687.0 347.0L690.0 353.0L691.0 357.0L685.0 361.0L677.0 365.0L671.0 369.0L665.0 373.0L657.0 375.0L649.0 378.0L641.0 380.0L633.0 381.0L625.0 383.0L617.0 387.0L611.0 386.0L603.0 384.0L595.0 382.0L585.0 379.0L577.0 375.0L569.0 374.0L563.0 373.0L558.0 369.0L553.0 371.0L545.0 371.4L539.0 370.6L525.0 371.0L521.0 363.0L516.0 355.0L513.0 349.0L505.0 346.0L499.0 342.0L493.0 338.0L489.0 337.0L481.0 336.0L473.0 335.0L465.0 333.0L464.0 327.0L467.0 321.0L466.0 315.0L474.0 313.0L470.0 312.0L466.0 305.0L462.0 299.0L458.0 294.0L451.0 291.0L445.0 286.0L437.0 283.0L434.0 279.0Z" fill="#fbe7da" stroke="#fbe7da" stroke-width="0.4" stroke-linejoin="round"/>
<path d="M432.0 275.0L437.0 269.0L445.0 266.0L452.0 264.0L455.0 260.0L458.0 263.0L462.0 269.0L468.0 275.0L466.0 280.0L465.0 284.0L468.0 295.0L472.0 303.0L475.0 311.0L474.0 313.0L470.0 312.0L466.0 305.0L462.0 299.0L458.0 294.0L451.0 291.0L445.0 286.0L437.0 283.0L434.0 279.0Z" fill="#dc9c9a" stroke="#fdf1ea" stroke-width="0.5" stroke-linejoin="round"/>
<path d="M455.0 260.0L458.0 257.0L468.0 253.0L475.0 248.0L481.0 245.0L483.0 247.0L486.0 245.0L489.0 248.0L501.0 250.0L504.0 256.0L509.0 259.0L515.0 263.0L516.0 269.0L513.0 275.0L509.0 278.0L501.0 279.0L495.0 281.0L491.0 284.0L485.0 282.0L477.0 281.0L474.0 277.0L468.0 275.0L462.0 269.0L458.0 263.0Z" fill="#fbd4bc" stroke="#fdf1ea" stroke-width="0.5" stroke-linejoin="round"/>
<path d="M465.0 281.0L468.0 275.0L474.0 277.0L477.0 281.0L485.0 282.0L491.0 284.0L492.0 289.0L491.0 295.0L495.0 299.0L500.0 305.0L499.0 311.0L494.0 315.0L492.0 323.0L489.0 330.0L489.0 337.0L481.0 336.0L473.0 335.0L465.0 333.0L464.0 327.0L467.0 321.0L466.0 315.0L474.0 313.0L475.0 311.0L472.0 303.0L468.0 295.0L465.0 284.0Z" fill="#d9615f" stroke="#fdf1ea" stroke-width="0.5" stroke-linejoin="round"/>
<path d="M495.0 299.0L500.0 296.0L509.0 297.0L515.0 299.0L521.0 304.0L525.0 309.0L533.0 312.0L537.0 315.0L543.0 323.0L546.0 330.0L544.0 339.0L541.0 347.0L540.6 355.0L540.0 363.0L539.0 370.6L525.0 371.0L521.0 363.0L516.0 355.0L513.0 349.0L505.0 346.0L499.0 342.0L493.0 338.0L489.0 337.0L489.0 330.0L492.0 323.0L494.0 315.0L499.0 311.0L500.0 305.0Z" fill="#d9615f" stroke="#fdf1ea" stroke-width="0.5" stroke-linejoin="round"/>
<path d="M491.0 284.0L495.0 281.0L501.0 279.0L509.0 278.0L513.0 275.0L516.0 269.0L515.0 263.0L523.0 260.0L531.0 263.0L531.0 267.0L537.0 271.0L545.0 273.0L552.0 275.0L553.0 281.0L552.0 285.0L547.0 289.0L543.0 292.0L545.0 297.0L543.0 301.0L539.0 307.0L537.0 315.0L533.0 312.0L525.0 309.0L521.0 304.0L515.0 299.0L509.0 297.0L500.0 296.0L495.0 299.0L491.0 295.0L492.0 289.0Z" fill="#fbd4bc" stroke="#fdf1ea" stroke-width="0.5" stroke-linejoin="round"/>
<path d="M531.0 263.0L535.0 260.0L541.0 258.0L544.0 254.0L543.0 249.0L540.0 243.0L541.0 237.0L545.0 233.0L548.0 227.0L551.0 222.6L555.0 225.0L563.0 228.0L569.0 229.0L577.0 232.0L585.0 235.0L587.0 241.0L588.0 247.0L587.0 253.0L591.0 258.0L589.0 263.0L585.0 268.0L581.0 271.0L575.0 273.0L569.0 274.0L567.0 279.0L565.0 283.0L557.0 284.0L553.0 281.0L552.0 275.0L545.0 273.0L537.0 271.0L531.0 267.0Z" fill="#fbd4bc" stroke="#fdf1ea" stroke-width="0.5" stroke-linejoin="round"/>
<path d="M553.0 281.0L557.0 284.0L565.0 283.0L567.0 279.0L569.0 274.0L575.0 273.0L581.0 274.0L585.0 281.0L589.0 287.0L593.0 294.0L597.0 299.0L601.0 303.0L593.0 303.0L591.0 306.0L583.0 309.0L579.0 311.0L574.0 310.0L569.0 307.0L565.0 304.0L561.0 301.0L559.0 297.0L553.0 296.0L549.0 295.0L545.0 297.0L543.0 292.0L547.0 289.0L552.0 285.0Z" fill="#fbd4bc" stroke="#fdf1ea" stroke-width="0.5" stroke-linejoin="round"/>
<path d="M545.0 297.0L549.0 295.0L553.0 296.0L559.0 297.0L561.0 301.0L565.0 304.0L569.0 307.0L574.0 310.0L579.0 311.0L580.0 319.0L577.0 327.0L576.0 335.0L580.0 341.0L581.0 349.0L573.0 350.0L565.0 351.0L558.0 351.0L557.0 359.0L558.0 369.0L553.0 371.0L545.0 371.4L539.0 370.6L540.0 363.0L540.6 355.0L541.0 347.0L544.0 339.0L546.0 330.0L543.0 323.0L537.0 315.0L539.0 307.0L543.0 301.0Z" fill="#fbd4bc" stroke="#fdf1ea" stroke-width="0.5" stroke-linejoin="round"/>
<path d="M587.0 253.0L593.0 255.0L601.0 256.0L611.0 254.0L613.0 261.0L612.0 269.0L614.0 275.0L613.0 281.0L611.0 289.0L614.0 295.0L609.0 300.0L608.0 303.0L601.0 303.0L597.0 299.0L593.0 294.0L589.0 287.0L585.0 281.0L581.0 274.0L581.0 271.0L585.0 268.0L589.0 263.0L591.0 258.0Z" fill="#fbe7da" stroke="#fdf1ea" stroke-width="0.5" stroke-linejoin="round"/>
<path d="M579.0 311.0L583.0 309.0L591.0 306.0L593.0 303.0L601.0 303.0L608.0 303.0L610.0 309.0L611.0 314.0L609.0 319.0L605.0 325.0L602.0 330.0L601.0 337.0L597.0 343.0L594.0 349.0L581.0 349.0L580.0 341.0L576.0 335.0L577.0 327.0L580.0 319.0Z" fill="#dc9c9a" stroke="#fdf1ea" stroke-width="0.5" stroke-linejoin="round"/>
<path d="M611.0 255.0L612.0 253.0L618.0 251.0L625.0 252.0L633.0 251.0L639.0 254.0L644.0 258.0L649.0 263.0L653.0 268.0L654.0 271.0L651.0 273.0L645.0 274.0L643.0 279.0L635.0 280.0L629.0 278.0L624.0 278.0L618.0 280.0L613.0 281.0L612.0 275.0L613.0 269.0L612.0 263.0Z" fill="#dc9c9a" stroke="#fdf1ea" stroke-width="0.5" stroke-linejoin="round"/>
<path d="M613.0 281.0L618.0 280.0L624.0 278.0L629.0 278.0L635.0 280.0L643.0 279.0L645.0 274.0L651.0 273.0L654.0 271.0L657.0 275.0L658.0 283.0L655.0 291.0L654.0 297.0L655.0 303.0L656.0 308.0L649.0 309.0L643.0 313.0L635.0 312.0L625.0 311.0L615.0 312.0L610.0 309.0L609.0 303.0L608.0 299.0L612.0 295.0L611.0 289.0L611.0 284.0Z" fill="#fbd4bc" stroke="#fdf1ea" stroke-width="0.5" stroke-linejoin="round"/>
<path d="M654.0 271.0L661.0 270.0L669.0 272.0L677.0 273.0L685.0 270.0L694.0 268.0L695.0 275.0L697.0 283.0L699.0 291.0L699.0 296.0L693.0 299.0L687.0 304.0L685.0 311.0L686.0 317.0L681.0 319.0L675.0 318.0L669.0 315.0L663.0 313.0L656.0 308.0L655.0 303.0L654.0 297.0L655.0 291.0L658.0 283.0L657.0 275.0Z" fill="#fbe7da" stroke="#fdf1ea" stroke-width="0.5" stroke-linejoin="round"/>
<path d="M694.0 268.0L697.0 265.0L705.0 260.0L711.0 256.0L717.0 254.0L725.0 256.0L733.0 259.0L741.0 260.0L740.0 265.0L737.0 271.0L734.0 279.0L732.0 286.0L731.0 292.0L737.0 294.0L745.0 295.0L751.0 293.0L758.0 292.0L765.0 297.0L771.0 303.0L776.0 308.0L775.0 313.0L769.0 312.0L761.0 313.0L755.0 315.0L749.0 317.0L743.0 318.0L740.0 319.0L737.0 315.0L729.0 313.0L723.0 311.0L719.0 307.0L715.0 303.0L709.0 299.0L703.0 297.0L699.0 296.0L699.0 291.0L697.0 283.0L695.0 275.0Z" fill="#dc9c9a" stroke="#fdf1ea" stroke-width="0.5" stroke-linejoin="round"/>
<path d="M699.0 296.0L703.0 297.0L709.0 299.0L715.0 303.0L719.0 307.0L723.0 311.0L729.0 313.0L737.0 315.0L740.0 319.0L737.0 324.0L732.0 329.0L725.0 333.0L717.0 336.0L711.0 340.0L705.0 341.0L700.0 338.0L694.0 337.0L691.0 331.0L689.0 325.0L686.0 317.0L685.0 311.0L687.0 304.0L693.0 299.0Z" fill="#fbd4bc" stroke="#fdf1ea" stroke-width="0.5" stroke-linejoin="round"/>
<path d="M656.0 308.0L663.0 313.0L669.0 315.0L675.0 318.0L681.0 319.0L686.0 317.0L689.0 325.0L691.0 331.0L694.0 337.0L689.0 341.0L687.0 347.0L690.0 353.0L691.0 357.0L685.0 361.0L677.0 365.0L671.0 369.0L665.0 373.0L657.0 375.0L649.0 378.0L650.0 367.0L649.0 355.0L651.0 345.0L654.0 335.0L655.0 325.0L653.0 317.0L651.0 313.0L649.0 309.0Z" fill="#fbe7da" stroke="#fdf1ea" stroke-width="0.5" stroke-linejoin="round"/>
<path d="M610.0 309.0L615.0 312.0L625.0 311.0L635.0 312.0L643.0 313.0L649.0 309.0L651.0 313.0L653.0 317.0L655.0 325.0L654.0 335.0L651.0 345.0L643.0 343.0L635.0 341.0L625.0 343.0L623.0 347.0L615.0 345.0L605.0 343.0L596.0 343.0L601.0 337.0L602.0 330.0L605.0 325.0L609.0 319.0L611.0 314.0Z" fill="#fbe7da" stroke="#fdf1ea" stroke-width="0.5" stroke-linejoin="round"/>
<path d="M558.0 351.0L565.0 351.0L573.0 350.0L581.0 349.0L594.0 349.0L596.0 343.0L605.0 343.0L615.0 345.0L623.0 347.0L625.0 343.0L635.0 341.0L643.0 343.0L651.0 345.0L649.0 355.0L650.0 367.0L649.0 378.0L641.0 380.0L633.0 381.0L625.0 383.0L617.0 387.0L611.0 386.0L603.0 384.0L595.0 382.0L585.0 379.0L577.0 375.0L569.0 374.0L563.0 373.0L558.0 369.0L557.0 359.0Z" fill="#fbe7da" stroke="#fdf1ea" stroke-width="0.5" stroke-linejoin="round"/>
<path d="M606.0 273.0L610.0 272.6L610.4 274.6L606.6 275.0Z" fill="#dc9c9a" stroke="#fdf1ea" stroke-width="0.3" stroke-linejoin="round"/>
<path d="M626.0 265.0L629.0 264.0L632.0 265.4L635.0 264.6L635.4 272.0L632.0 273.0L629.0 272.0L626.2 272.6Z" fill="#de5458" stroke="#f7d5cf" stroke-width="0.7" stroke-linejoin="round"/>
<path d="M632.0 288.6L637.4 287.8L640.0 291.0L643.0 291.8L643.4 295.4L639.0 296.2L635.0 295.0L632.6 293.4Z" fill="#b32a2e" stroke="#b32a2e" stroke-width="0.3" stroke-linejoin="round"/>
<path d="M651.6 293.4L653.0 292.2L653.8 295.0L653.0 297.4L651.6 296.6Z" fill="#8e2a30" stroke="#8e2a30" stroke-width="0.2" stroke-linejoin="round"/>
<rect x="699" y="346" width="29" height="10" fill="#fff"/>
<text x="713.5" y="354.0" font-size="6.6" fill="#1b2a4e" text-anchor="middle" stroke="#1b2a4e" stroke-width="0.18">АР</text>
<text x="714.5" y="369.2" font-size="8.6" fill="#ffffff" text-anchor="middle" stroke="#ffffff" stroke-width="0.24">0000</text>
<rect x="699" y="375" width="29" height="10.4" fill="#fbd0b4"/>
<text x="713.5" y="383.0" font-size="6.4" fill="#2a2f4f" text-anchor="middle" stroke="#2a2f4f" stroke-width="0.18">0000</text>
<text x="734.0" y="350.4" font-size="4.5" fill="#ffffff" textLength="28.0" lengthAdjust="spacingAndGlyphs">АЙМГУУДЫН</text>
<text x="734.0" y="355.7" font-size="4.5" fill="#ffffff" textLength="36.7" lengthAdjust="spacingAndGlyphs">ТОВЧИЛСОН НЭР</text>
<text x="734.0" y="364.0" font-size="4.5" fill="#ffffff" textLength="43.9" lengthAdjust="spacingAndGlyphs">ӨДӨРТ БАТЛАГДСАН</text>
<text x="734.0" y="369.3" font-size="4.5" fill="#ffffff" textLength="27.5" lengthAdjust="spacingAndGlyphs">ТОХИОЛДОЛ</text>
<text x="734.0" y="379.0" font-size="4.5" fill="#ffffff" textLength="43.0" lengthAdjust="spacingAndGlyphs">НИЙТ  БАТЛАГДСАН</text>
<text x="734.0" y="384.1" font-size="4.5" fill="#ffffff" textLength="27.5" lengthAdjust="spacingAndGlyphs">ТОХИОЛДОЛ</text>
</g>
<g id="epi-chart">
<line x1="817.8" x2="1163" y1="228.6" y2="228.6" stroke="#e9e9e9" stroke-width="0.55"/>
<line x1="817.8" x2="1163" y1="242.0" y2="242.0" stroke="#e9e9e9" stroke-width="0.55"/>
<line x1="817.8" x2="1163" y1="255.4" y2="255.4" stroke="#e9e9e9" stroke-width="0.55"/>
<line x1="817.8" x2="1163" y1="268.7" y2="268.7" stroke="#e9e9e9" stroke-width="0.55"/>
<line x1="817.8" x2="1163" y1="282.1" y2="282.1" stroke="#e9e9e9" stroke-width="0.55"/>
<line x1="817.8" x2="1163" y1="295.5" y2="295.5" stroke="#e9e9e9" stroke-width="0.55"/>
<line x1="817.8" x2="1163" y1="308.9" y2="308.9" stroke="#e9e9e9" stroke-width="0.55"/>
<line x1="817.8" x2="1163" y1="322.3" y2="322.3" stroke="#e9e9e9" stroke-width="0.55"/>
<line x1="817.8" x2="1163" y1="335.6" y2="335.6" stroke="#e9e9e9" stroke-width="0.55"/>
<line x1="817.8" x2="1163" y1="349.0" y2="349.0" stroke="#e9e9e9" stroke-width="0.55"/>
<path d="M818.00 362.4v-0.3h0.68v0.3zM818.62 362.4v-0.3h0.68v0.3zM819.24 362.4v-0.3h0.68v0.3zM819.86 362.4v-0.2h0.68v0.2zM820.48 362.4v-0.2h0.68v0.2zM821.10 362.4v-0.2h0.68v0.2zM821.72 362.4v-0.2h0.68v0.2zM822.34 362.4v-0.3h0.68v0.3zM822.96 362.4v-0.3h0.68v0.3zM823.58 362.4v-0.3h0.68v0.3zM824.20 362.4v-0.2h0.68v0.2zM824.82 362.4v-0.2h0.68v0.2zM825.44 362.4v-0.2h0.68v0.2zM826.06 362.4v-0.3h0.68v0.3zM826.68 362.4v-0.3h0.68v0.3zM827.30 362.4v-0.3h0.68v0.3zM827.92 362.4v-0.3h0.68v0.3zM828.54 362.4v-0.3h0.68v0.3zM829.16 362.4v-0.2h0.68v0.2zM829.78 362.4v-0.2h0.68v0.2zM830.40 362.4v-0.3h0.68v0.3zM831.02 362.4v-0.3h0.68v0.3zM831.64 362.4v-0.3h0.68v0.3zM832.26 362.4v-0.3h0.68v0.3zM832.88 362.4v-0.2h0.68v0.2zM833.50 362.4v-0.2h0.68v0.2zM834.12 362.4v-0.2h0.68v0.2zM834.74 362.4v-0.3h0.68v0.3zM835.36 362.4v-0.3h0.68v0.3zM835.98 362.4v-0.3h0.68v0.3zM836.60 362.4v-0.3h0.68v0.3zM837.22 362.4v-0.2h0.68v0.2zM837.84 362.4v-0.2h0.68v0.2zM838.46 362.4v-0.2h0.68v0.2zM839.08 362.4v-0.2h0.68v0.2zM839.70 362.4v-0.3h0.68v0.3zM840.32 362.4v-0.3h0.68v0.3zM840.94 362.4v-0.3h0.68v0.3zM841.56 362.4v-0.2h0.68v0.2zM842.18 362.4v-0.2h0.68v0.2zM842.80 362.4v-0.2h0.68v0.2zM843.42 362.4v-0.3h0.68v0.3zM844.04 362.4v-0.3h0.68v0.3zM844.66 362.4v-0.3h0.68v0.3zM845.28 362.4v-0.3h0.68v0.3zM845.90 362.4v-0.3h0.68v0.3zM846.52 362.4v-0.2h0.68v0.2zM847.14 362.4v-0.3h0.68v0.3zM847.76 362.4v-0.3h0.68v0.3zM848.38 362.4v-0.3h0.68v0.3zM849.00 362.4v-0.3h0.68v0.3zM849.62 362.4v-0.3h0.68v0.3zM850.24 362.4v-0.3h0.68v0.3zM850.86 362.4v-0.3h0.68v0.3zM851.48 362.4v-0.2h0.68v0.2zM852.10 362.4v-0.3h0.68v0.3zM852.72 362.4v-0.3h0.68v0.3zM853.34 362.4v-0.3h0.68v0.3zM853.96 362.4v-0.3h0.68v0.3zM854.58 362.4v-0.3h0.68v0.3zM855.20 362.4v-0.3h0.68v0.3zM855.82 362.4v-0.2h0.68v0.2zM856.44 362.4v-0.3h0.68v0.3zM857.06 362.4v-0.3h0.68v0.3zM857.68 362.4v-0.3h0.68v0.3zM858.30 362.4v-0.3h0.68v0.3zM858.92 362.4v-0.3h0.68v0.3zM859.54 362.4v-0.3h0.68v0.3zM860.16 362.4v-0.3h0.68v0.3zM860.78 362.4v-0.3h0.68v0.3zM861.40 362.4v-0.3h0.68v0.3zM862.02 362.4v-0.3h0.68v0.3zM862.64 362.4v-0.3h0.68v0.3zM863.26 362.4v-0.3h0.68v0.3zM863.88 362.4v-0.3h0.68v0.3zM864.50 362.4v-0.2h0.68v0.2zM865.12 362.4v-0.3h0.68v0.3zM865.74 362.4v-0.3h0.68v0.3zM866.36 362.4v-0.3h0.68v0.3zM866.98 362.4v-0.3h0.68v0.3zM867.60 362.4v-0.3h0.68v0.3zM868.22 362.4v-0.2h0.68v0.2zM868.84 362.4v-0.2h0.68v0.2zM869.46 362.4v-0.3h0.68v0.3zM870.08 362.4v-0.3h0.68v0.3zM870.70 362.4v-0.3h0.68v0.3zM871.32 362.4v-0.3h0.68v0.3zM871.94 362.4v-0.3h0.68v0.3zM872.56 362.4v-0.2h0.68v0.2zM873.18 362.4v-0.3h0.68v0.3zM873.80 362.4v-0.3h0.68v0.3zM874.42 362.4v-0.3h0.68v0.3zM875.04 362.4v-0.3h0.68v0.3zM875.66 362.4v-0.3h0.68v0.3zM876.28 362.4v-0.3h0.68v0.3zM876.90 362.4v-0.3h0.68v0.3zM877.52 362.4v-0.3h0.68v0.3zM878.14 362.4v-0.3h0.68v0.3zM878.76 362.4v-0.3h0.68v0.3zM879.38 362.4v-0.3h0.68v0.3zM880.00 362.4v-0.3h0.68v0.3zM880.62 362.4v-0.3h0.68v0.3zM881.24 362.4v-0.3h0.68v0.3zM881.86 362.4v-0.3h0.68v0.3zM882.48 362.4v-0.3h0.68v0.3zM883.10 362.4v-0.3h0.68v0.3zM883.72 362.4v-0.3h0.68v0.3zM884.34 362.4v-0.3h0.68v0.3zM884.96 362.4v-0.3h0.68v0.3zM885.58 362.4v-0.3h0.68v0.3zM886.20 362.4v-0.3h0.68v0.3zM886.82 362.4v-0.3h0.68v0.3zM887.44 362.4v-0.3h0.68v0.3zM888.06 362.4v-0.3h0.68v0.3zM888.68 362.4v-0.3h0.68v0.3zM889.30 362.4v-0.3h0.68v0.3zM889.92 362.4v-0.3h0.68v0.3zM890.54 362.4v-0.3h0.68v0.3zM891.16 362.4v-0.3h0.68v0.3zM891.78 362.4v-0.3h0.68v0.3zM892.40 362.4v-0.3h0.68v0.3zM893.02 362.4v-0.3h0.68v0.3zM893.64 362.4v-0.3h0.68v0.3zM894.26 362.4v-0.3h0.68v0.3zM894.88 362.4v-0.3h0.68v0.3zM895.50 362.4v-0.3h0.68v0.3zM896.12 362.4v-0.3h0.68v0.3zM896.74 362.4v-0.3h0.68v0.3zM897.36 362.4v-0.3h0.68v0.3zM897.98 362.4v-0.3h0.68v0.3zM898.60 362.4v-0.2h0.68v0.2zM899.22 362.4v-0.3h0.68v0.3zM899.84 362.4v-0.3h0.68v0.3zM900.46 362.4v-0.3h0.68v0.3zM901.08 362.4v-0.3h0.68v0.3zM901.70 362.4v-0.3h0.68v0.3zM902.32 362.4v-0.3h0.68v0.3zM902.94 362.4v-0.3h0.68v0.3zM903.56 362.4v-0.3h0.68v0.3zM904.18 362.4v-0.3h0.68v0.3zM904.80 362.4v-0.3h0.68v0.3zM905.42 362.4v-0.3h0.68v0.3zM906.04 362.4v-0.4h0.68v0.4zM906.66 362.4v-0.3h0.68v0.3zM907.28 362.4v-0.3h0.68v0.3zM907.90 362.4v-0.3h0.68v0.3zM908.52 362.4v-0.3h0.68v0.3zM909.14 362.4v-0.3h0.68v0.3zM909.76 362.4v-0.4h0.68v0.4zM910.38 362.4v-0.4h0.68v0.4zM911.00 362.4v-0.4h0.68v0.4zM911.62 362.4v-0.3h0.68v0.3zM912.24 362.4v-0.3h0.68v0.3zM912.86 362.4v-0.4h0.68v0.4zM913.48 362.4v-0.4h0.68v0.4zM914.10 362.4v-0.4h0.68v0.4zM914.72 362.4v-0.4h0.68v0.4zM915.34 362.4v-0.3h0.68v0.3zM915.96 362.4v-0.3h0.68v0.3zM916.58 362.4v-0.4h0.68v0.4zM917.20 362.4v-0.4h0.68v0.4zM917.82 362.4v-0.4h0.68v0.4zM918.44 362.4v-0.4h0.68v0.4zM919.06 362.4v-0.4h0.68v0.4zM919.68 362.4v-0.4h0.68v0.4zM920.30 362.4v-0.4h0.68v0.4zM920.92 362.4v-0.4h0.68v0.4zM921.54 362.4v-0.4h0.68v0.4zM922.16 362.4v-0.4h0.68v0.4zM922.78 362.4v-0.4h0.68v0.4zM923.40 362.4v-0.5h0.68v0.5zM924.02 362.4v-0.4h0.68v0.4zM924.64 362.4v-0.4h0.68v0.4zM925.26 362.4v-0.4h0.68v0.4zM925.88 362.4v-0.5h0.68v0.5zM926.50 362.4v-0.5h0.68v0.5zM927.12 362.4v-0.5h0.68v0.5zM927.74 362.4v-0.5h0.68v0.5zM928.36 362.4v-0.4h0.68v0.4zM928.98 362.4v-0.4h0.68v0.4zM929.60 362.4v-0.4h0.68v0.4zM930.22 362.4v-0.4h0.68v0.4zM930.84 362.4v-0.5h0.68v0.5zM931.46 362.4v-0.5h0.68v0.5zM932.08 362.4v-0.5h0.68v0.5zM932.70 362.4v-0.5h0.68v0.5zM933.32 362.4v-0.5h0.68v0.5zM933.94 362.4v-0.5h0.68v0.5zM934.56 362.4v-0.6h0.68v0.6zM935.18 362.4v-0.6h0.68v0.6zM935.80 362.4v-0.6h0.68v0.6zM936.42 362.4v-0.6h0.68v0.6zM937.04 362.4v-0.5h0.68v0.5zM937.66 362.4v-0.5h0.68v0.5zM938.28 362.4v-0.6h0.68v0.6zM938.90 362.4v-0.6h0.68v0.6zM939.52 362.4v-0.7h0.68v0.7zM940.14 362.4v-0.7h0.68v0.7zM940.76 362.4v-0.7h0.68v0.7zM941.38 362.4v-0.7h0.68v0.7zM942.00 362.4v-0.6h0.68v0.6zM942.62 362.4v-0.6h0.68v0.6zM943.24 362.4v-0.7h0.68v0.7zM943.86 362.4v-0.8h0.68v0.8zM944.48 362.4v-0.8h0.68v0.8zM945.10 362.4v-0.7h0.68v0.7zM945.72 362.4v-0.7h0.68v0.7zM946.34 362.4v-0.7h0.68v0.7zM946.96 362.4v-0.7h0.68v0.7zM947.58 362.4v-0.8h0.68v0.8zM948.20 362.4v-1.0h0.68v1.0zM948.82 362.4v-0.9h0.68v0.9zM949.44 362.4v-0.9h0.68v0.9zM950.06 362.4v-0.9h0.68v0.9zM950.68 362.4v-0.9h0.68v0.9zM951.30 362.4v-0.8h0.68v0.8zM951.92 362.4v-0.9h0.68v0.9zM952.54 362.4v-1.0h0.68v1.0zM953.16 362.4v-1.2h0.68v1.2zM953.78 362.4v-1.2h0.68v1.2zM954.40 362.4v-1.0h0.68v1.0zM955.02 362.4v-1.2h0.68v1.2zM955.64 362.4v-1.3h0.68v1.3zM956.26 362.4v-1.3h0.68v1.3zM956.88 362.4v-1.4h0.68v1.4zM957.50 362.4v-1.5h0.68v1.5zM958.12 362.4v-1.4h0.68v1.4zM958.74 362.4v-1.3h0.68v1.3zM959.36 362.4v-1.6h0.68v1.6zM959.98 362.4v-1.6h0.68v1.6zM960.60 362.4v-1.7h0.68v1.7zM961.22 362.4v-2.0h0.68v2.0zM961.84 362.4v-2.0h0.68v2.0zM962.46 362.4v-2.1h0.68v2.1zM963.08 362.4v-2.0h0.68v2.0zM963.70 362.4v-1.8h0.68v1.8zM964.32 362.4v-1.9h0.68v1.9zM964.94 362.4v-2.2h0.68v2.2zM965.56 362.4v-2.5h0.68v2.5zM966.18 362.4v-2.8h0.68v2.8zM966.80 362.4v-2.7h0.68v2.7zM967.42 362.4v-2.7h0.68v2.7zM968.04 362.4v-2.5h0.68v2.5zM968.66 362.4v-3.1h0.68v3.1zM969.28 362.4v-3.1h0.68v3.1zM969.90 362.4v-3.6h0.68v3.6zM970.52 362.4v-3.9h0.68v3.9zM971.14 362.4v-4.1h0.68v4.1zM971.76 362.4v-3.7h0.68v3.7zM972.38 362.4v-4.0h0.68v4.0zM973.00 362.4v-4.0h0.68v4.0zM973.62 362.4v-4.5h0.68v4.5zM974.24 362.4v-5.0h0.68v5.0zM974.86 362.4v-5.0h0.68v5.0zM975.48 362.4v-5.4h0.68v5.4zM976.10 362.4v-5.0h0.68v5.0zM976.72 362.4v-4.8h0.68v4.8zM977.34 362.4v-6.0h0.68v6.0zM977.96 362.4v-6.1h0.68v6.1zM978.58 362.4v-7.1h0.68v7.1zM979.20 362.4v-7.8h0.68v7.8zM979.82 362.4v-7.6h0.68v7.6zM980.44 362.4v-7.1h0.68v7.1zM981.06 362.4v-7.3h0.68v7.3zM981.68 362.4v-7.9h0.68v7.9zM982.30 362.4v-9.2h0.68v9.2zM982.92 362.4v-9.2h0.68v9.2zM983.54 362.4v-10.4h0.68v10.4zM984.16 362.4v-9.9h0.68v9.9zM984.78 362.4v-9.5h0.68v9.5zM985.40 362.4v-9.8h0.68v9.8zM986.02 362.4v-10.1h0.68v10.1zM986.64 362.4v-11.4h0.68v11.4zM987.26 362.4v-12.6h0.68v12.6zM987.88 362.4v-13.6h0.68v13.6zM988.50 362.4v-12.5h0.68v12.5zM989.12 362.4v-13.1h0.68v13.1zM989.74 362.4v-10.8h0.68v10.8zM990.36 362.4v-13.3h0.68v13.3zM990.98 362.4v-14.4h0.68v14.4zM991.60 362.4v-16.2h0.68v16.2zM992.22 362.4v-17.1h0.68v17.1zM992.84 362.4v-16.6h0.68v16.6zM993.46 362.4v-14.2h0.68v14.2zM994.08 362.4v-13.0h0.68v13.0zM994.70 362.4v-12.9h0.68v12.9zM995.32 362.4v-14.0h0.68v14.0zM995.94 362.4v-20.9h0.68v20.9zM996.56 362.4v-16.3h0.68v16.3zM997.18 362.4v-15.4h0.68v15.4zM997.80 362.4v-15.9h0.68v15.9zM998.42 362.4v-13.3h0.68v13.3zM999.04 362.4v-16.7h0.68v16.7zM999.66 362.4v-19.8h0.68v19.8zM1000.28 362.4v-17.3h0.68v17.3zM1000.90 362.4v-16.7h0.68v16.7zM1001.52 362.4v-17.1h0.68v17.1zM1002.14 362.4v-14.8h0.68v14.8zM1002.76 362.4v-15.3h0.68v15.3zM1003.38 362.4v-13.7h0.68v13.7zM1004.00 362.4v-15.3h0.68v15.3zM1004.62 362.4v-11.4h0.68v11.4zM1005.24 362.4v-16.6h0.68v16.6zM1005.86 362.4v-20.5h0.68v20.5zM1006.48 362.4v-14.1h0.68v14.1zM1007.10 362.4v-13.3h0.68v13.3zM1007.72 362.4v-12.9h0.68v12.9zM1008.34 362.4v-14.4h0.68v14.4zM1008.96 362.4v-10.4h0.68v10.4zM1009.58 362.4v-14.4h0.68v14.4zM1010.20 362.4v-14.8h0.68v14.8zM1010.82 362.4v-12.3h0.68v12.3zM1011.44 362.4v-11.8h0.68v11.8zM1012.06 362.4v-11.2h0.68v11.2zM1012.68 362.4v-12.2h0.68v12.2zM1013.30 362.4v-10.1h0.68v10.1zM1013.92 362.4v-12.2h0.68v12.2zM1014.54 362.4v-12.8h0.68v12.8zM1015.16 362.4v-10.8h0.68v10.8zM1015.78 362.4v-8.5h0.68v8.5zM1016.40 362.4v-8.8h0.68v8.8zM1017.02 362.4v-8.9h0.68v8.9zM1017.64 362.4v-9.4h0.68v9.4zM1018.26 362.4v-9.2h0.68v9.2zM1018.88 362.4v-8.7h0.68v8.7zM1019.50 362.4v-8.1h0.68v8.1zM1020.12 362.4v-7.0h0.68v7.0zM1020.74 362.4v-6.9h0.68v6.9zM1021.36 362.4v-8.0h0.68v8.0zM1021.98 362.4v-7.4h0.68v7.4zM1022.60 362.4v-8.0h0.68v8.0zM1023.22 362.4v-7.4h0.68v7.4zM1023.84 362.4v-6.1h0.68v6.1zM1024.46 362.4v-6.6h0.68v6.6zM1025.08 362.4v-6.9h0.68v6.9zM1025.70 362.4v-7.2h0.68v7.2zM1026.32 362.4v-7.9h0.68v7.9zM1026.94 362.4v-8.2h0.68v8.2zM1027.56 362.4v-7.1h0.68v7.1zM1028.18 362.4v-7.1h0.68v7.1zM1028.80 362.4v-6.8h0.68v6.8zM1029.42 362.4v-7.4h0.68v7.4zM1030.04 362.4v-7.9h0.68v7.9zM1030.66 362.4v-8.6h0.68v8.6zM1031.28 362.4v-8.7h0.68v8.7zM1031.90 362.4v-9.0h0.68v9.0zM1032.52 362.4v-8.3h0.68v8.3zM1033.14 362.4v-8.1h0.68v8.1zM1033.76 362.4v-7.8h0.68v7.8zM1034.38 362.4v-8.4h0.68v8.4zM1035.00 362.4v-9.4h0.68v9.4zM1035.62 362.4v-10.1h0.68v10.1zM1036.24 362.4v-9.5h0.68v9.5zM1036.86 362.4v-10.2h0.68v10.2zM1037.48 362.4v-9.9h0.68v9.9zM1038.10 362.4v-9.4h0.68v9.4zM1038.72 362.4v-11.6h0.68v11.6zM1039.34 362.4v-12.1h0.68v12.1zM1039.96 362.4v-12.9h0.68v12.9zM1040.58 362.4v-13.1h0.68v13.1zM1041.20 362.4v-13.1h0.68v13.1zM1041.82 362.4v-13.4h0.68v13.4zM1042.44 362.4v-15.9h0.68v15.9zM1043.06 362.4v-15.9h0.68v15.9zM1043.68 362.4v-18.5h0.68v18.5zM1044.30 362.4v-18.9h0.68v18.9zM1044.92 362.4v-18.5h0.68v18.5zM1045.54 362.4v-16.7h0.68v16.7zM1046.16 362.4v-15.4h0.68v15.4zM1046.78 362.4v-19.8h0.68v19.8zM1047.40 362.4v-20.2h0.68v20.2zM1048.02 362.4v-22.3h0.68v22.3zM1048.64 362.4v-24.7h0.68v24.7zM1049.26 362.4v-25.5h0.68v25.5zM1049.88 362.4v-24.5h0.68v24.5zM1050.50 362.4v-26.3h0.68v26.3zM1051.12 362.4v-25.2h0.68v25.2zM1051.74 362.4v-28.0h0.68v28.0zM1052.36 362.4v-29.8h0.68v29.8zM1052.98 362.4v-32.3h0.68v32.3zM1053.60 362.4v-36.2h0.68v36.2zM1054.22 362.4v-32.3h0.68v32.3zM1054.84 362.4v-31.6h0.68v31.6zM1055.46 362.4v-41.5h0.68v41.5zM1056.08 362.4v-40.8h0.68v40.8zM1056.70 362.4v-42.2h0.68v42.2zM1057.32 362.4v-47.2h0.68v47.2zM1057.94 362.4v-44.4h0.68v44.4zM1058.56 362.4v-31.1h0.68v31.1zM1059.18 362.4v-40.1h0.68v40.1zM1059.80 362.4v-53.8h0.68v53.8zM1060.42 362.4v-46.6h0.68v46.6zM1061.04 362.4v-53.1h0.68v53.1zM1061.66 362.4v-53.9h0.68v53.9zM1062.28 362.4v-50.1h0.68v50.1zM1062.90 362.4v-45.3h0.68v45.3zM1063.52 362.4v-43.4h0.68v43.4zM1064.14 362.4v-46.6h0.68v46.6zM1064.76 362.4v-47.8h0.68v47.8zM1065.38 362.4v-52.9h0.68v52.9zM1066.00 362.4v-58.8h0.68v58.8zM1066.62 362.4v-52.2h0.68v52.2zM1067.24 362.4v-55.3h0.68v55.3zM1067.86 362.4v-43.0h0.68v43.0zM1068.48 362.4v-49.6h0.68v49.6zM1069.10 362.4v-47.9h0.68v47.9zM1069.72 362.4v-56.8h0.68v56.8zM1070.34 362.4v-62.0h0.68v62.0zM1070.96 362.4v-42.1h0.68v42.1zM1071.58 362.4v-50.4h0.68v50.4zM1072.20 362.4v-48.1h0.68v48.1zM1072.82 362.4v-42.4h0.68v42.4zM1073.44 362.4v-51.6h0.68v51.6zM1074.06 362.4v-53.4h0.68v53.4zM1074.68 362.4v-48.4h0.68v48.4zM1075.30 362.4v-52.5h0.68v52.5zM1075.92 362.4v-42.6h0.68v42.6zM1076.54 362.4v-49.7h0.68v49.7zM1077.16 362.4v-43.8h0.68v43.8zM1077.78 362.4v-53.7h0.68v53.7zM1078.40 362.4v-51.3h0.68v51.3zM1079.02 362.4v-47.8h0.68v47.8zM1079.64 362.4v-48.2h0.68v48.2zM1080.26 362.4v-37.6h0.68v37.6zM1080.88 362.4v-37.5h0.68v37.5zM1081.50 362.4v-33.7h0.68v33.7zM1082.12 362.4v-38.9h0.68v38.9zM1082.74 362.4v-42.6h0.68v42.6zM1083.36 362.4v-38.4h0.68v38.4zM1083.98 362.4v-38.9h0.68v38.9zM1084.60 362.4v-34.6h0.68v34.6zM1085.22 362.4v-30.3h0.68v30.3zM1085.84 362.4v-29.5h0.68v29.5zM1086.46 362.4v-29.3h0.68v29.3zM1087.08 362.4v-31.0h0.68v31.0zM1087.70 362.4v-31.0h0.68v31.0zM1088.32 362.4v-30.0h0.68v30.0zM1088.94 362.4v-25.0h0.68v25.0zM1089.56 362.4v-30.6h0.68v30.6zM1090.18 362.4v-23.4h0.68v23.4zM1090.80 362.4v-23.6h0.68v23.6zM1091.42 362.4v-29.2h0.68v29.2zM1092.04 362.4v-26.5h0.68v26.5zM1092.66 362.4v-22.7h0.68v22.7zM1093.28 362.4v-23.8h0.68v23.8zM1093.90 362.4v-17.9h0.68v17.9zM1094.52 362.4v-21.9h0.68v21.9zM1095.14 362.4v-23.3h0.68v23.3zM1095.76 362.4v-27.7h0.68v27.7zM1096.38 362.4v-26.2h0.68v26.2zM1097.00 362.4v-24.9h0.68v24.9zM1097.62 362.4v-29.2h0.68v29.2zM1098.24 362.4v-19.5h0.68v19.5zM1098.86 362.4v-22.9h0.68v22.9zM1099.48 362.4v-24.0h0.68v24.0zM1100.10 362.4v-25.7h0.68v25.7zM1100.72 362.4v-26.9h0.68v26.9zM1101.34 362.4v-25.2h0.68v25.2zM1101.96 362.4v-21.4h0.68v21.4zM1102.58 362.4v-19.0h0.68v19.0zM1103.20 362.4v-22.1h0.68v22.1zM1103.82 362.4v-21.2h0.68v21.2zM1104.44 362.4v-24.6h0.68v24.6zM1105.06 362.4v-21.7h0.68v21.7zM1105.68 362.4v-21.7h0.68v21.7zM1106.30 362.4v-20.4h0.68v20.4zM1106.92 362.4v-20.0h0.68v20.0zM1107.54 362.4v-20.1h0.68v20.1zM1108.16 362.4v-19.8h0.68v19.8zM1108.78 362.4v-20.6h0.68v20.6zM1109.40 362.4v-22.8h0.68v22.8zM1110.02 362.4v-20.0h0.68v20.0zM1110.64 362.4v-17.8h0.68v17.8zM1111.26 362.4v-22.9h0.68v22.9zM1111.88 362.4v-15.9h0.68v15.9zM1112.50 362.4v-18.0h0.68v18.0zM1113.12 362.4v-20.7h0.68v20.7zM1113.74 362.4v-21.8h0.68v21.8zM1114.36 362.4v-20.5h0.68v20.5zM1114.98 362.4v-18.4h0.68v18.4zM1115.60 362.4v-16.7h0.68v16.7zM1116.22 362.4v-16.6h0.68v16.6zM1116.84 362.4v-20.8h0.68v20.8zM1117.46 362.4v-19.0h0.68v19.0zM1118.08 362.4v-18.8h0.68v18.8zM1118.70 362.4v-19.0h0.68v19.0zM1119.32 362.4v-16.6h0.68v16.6zM1119.94 362.4v-16.6h0.68v16.6zM1120.56 362.4v-18.5h0.68v18.5zM1121.18 362.4v-18.0h0.68v18.0zM1121.80 362.4v-21.2h0.68v21.2zM1122.42 362.4v-15.6h0.68v15.6zM1123.04 362.4v-18.9h0.68v18.9zM1123.66 362.4v-19.0h0.68v19.0zM1124.28 362.4v-15.8h0.68v15.8zM1124.90 362.4v-23.4h0.68v23.4zM1125.52 362.4v-19.5h0.68v19.5zM1126.14 362.4v-21.3h0.68v21.3zM1126.76 362.4v-21.9h0.68v21.9zM1127.38 362.4v-20.3h0.68v20.3zM1128.00 362.4v-15.7h0.68v15.7zM1128.62 362.4v-19.1h0.68v19.1zM1129.24 362.4v-21.4h0.68v21.4zM1129.86 362.4v-21.3h0.68v21.3zM1130.48 362.4v-25.5h0.68v25.5zM1131.10 362.4v-24.8h0.68v24.8zM1131.72 362.4v-23.1h0.68v23.1zM1132.34 362.4v-30.5h0.68v30.5zM1132.96 362.4v-21.5h0.68v21.5zM1133.58 362.4v-25.2h0.68v25.2zM1134.20 362.4v-26.8h0.68v26.8zM1134.82 362.4v-30.3h0.68v30.3zM1135.44 362.4v-38.5h0.68v38.5zM1136.06 362.4v-30.5h0.68v30.5zM1136.68 362.4v-30.2h0.68v30.2zM1137.30 362.4v-27.9h0.68v27.9zM1137.92 362.4v-29.8h0.68v29.8zM1138.54 362.4v-33.3h0.68v33.3zM1139.16 362.4v-41.6h0.68v41.6zM1139.78 362.4v-39.7h0.68v39.7zM1140.40 362.4v-45.1h0.68v45.1zM1141.02 362.4v-43.9h0.68v43.9zM1141.64 362.4v-37.9h0.68v37.9zM1142.26 362.4v-46.0h0.68v46.0zM1142.88 362.4v-41.8h0.68v41.8zM1143.50 362.4v-55.1h0.68v55.1zM1144.12 362.4v-54.1h0.68v54.1zM1144.74 362.4v-55.4h0.68v55.4zM1145.36 362.4v-51.0h0.68v51.0zM1145.98 362.4v-48.3h0.68v48.3zM1146.60 362.4v-60.1h0.68v60.1zM1147.22 362.4v-59.2h0.68v59.2zM1147.84 362.4v-69.9h0.68v69.9zM1148.46 362.4v-77.4h0.68v77.4zM1149.08 362.4v-95.8h0.68v95.8zM1149.70 362.4v-65.2h0.68v65.2zM1150.32 362.4v-69.1h0.68v69.1zM1150.94 362.4v-68.4h0.68v68.4zM1151.56 362.4v-72.4h0.68v72.4zM1152.18 362.4v-73.0h0.68v73.0zM1152.80 362.4v-72.8h0.68v72.8zM1153.42 362.4v-73.0h0.68v73.0zM1154.04 362.4v-73.5h0.68v73.5zM1154.66 362.4v-60.2h0.68v60.2zM1155.28 362.4v-82.1h0.68v82.1zM1155.90 362.4v-83.6h0.68v83.6zM1156.52 362.4v-86.7h0.68v86.7zM1157.14 362.4v-89.2h0.68v89.2zM1157.76 362.4v-87.7h0.68v87.7zM1158.38 362.4v-93.1h0.68v93.1zM1159.00 362.4v-79.3h0.68v79.3zM1159.62 362.4v-86.9h0.68v86.9zM1160.24 362.4v-98.5h0.68v98.5zM1160.86 362.4v-99.1h0.68v99.1zM1161.48 362.4v-99.7h0.68v99.7zM1162.10 362.4v-100.4h0.68v100.4zM1162.72 362.4v-96.5h0.68v96.5z" fill="#4472c4"/>
<rect x="1058.0" y="303.4" width="0.9" height="59.0" fill="#4472c4"/>
<rect x="1059.2" y="306.4" width="0.9" height="56.0" fill="#4472c4"/>
<rect x="1071.0" y="304.4" width="0.9" height="58.0" fill="#4472c4"/>
<rect x="1074.0" y="301.4" width="0.9" height="61.0" fill="#4472c4"/>
<rect x="1147.0" y="278.4" width="0.9" height="84.0" fill="#4472c4"/>
<rect x="1148.5" y="282.4" width="0.9" height="80.0" fill="#4472c4"/>
<rect x="1154.5" y="259.4" width="0.9" height="103.0" fill="#4472c4"/>
<rect x="1155.8" y="256.4" width="0.9" height="106.0" fill="#4472c4"/>
<rect x="1157.0" y="254.4" width="0.9" height="108.0" fill="#4472c4"/>
<rect x="1158.3" y="252.4" width="0.9" height="110.0" fill="#4472c4"/>
<rect x="1162.0" y="244.4" width="0.9" height="118.0" fill="#4472c4"/>
<rect x="1160.5" y="288.4" width="0.9" height="74.0" fill="#4472c4"/>
<rect x="1161.2" y="286.4" width="0.9" height="76.0" fill="#4472c4"/>
<rect x="1062.5" y="292.4" width="0.7" height="34.0" fill="#fff"/>
<rect x="1067.5" y="292.4" width="0.7" height="30.0" fill="#fff"/>
<rect x="1076.0" y="292.4" width="0.7" height="40.0" fill="#fff"/>
<rect x="1079.0" y="292.4" width="0.7" height="40.0" fill="#fff"/>
<rect x="1150.5" y="292.4" width="0.7" height="10.0" fill="#fff"/>
<rect x="1152.8" y="292.4" width="0.7" height="12.0" fill="#fff"/>
<polyline points="817.8,361.5 900.0,361.5 930.0,361.3 945.0,361.1 953.0,360.8 960.0,360.2 965.0,359.6 970.0,358.5 974.4,357.2 980.0,354.6 986.3,350.8 992.7,347.0 999.0,346.2 1005.3,346.6 1011.7,348.7 1018.0,353.4 1024.3,355.0 1030.7,354.2 1037.0,351.9 1043.3,346.6 1049.7,338.2 1056.0,324.4 1061.3,313.9 1065.5,310.3 1070.8,312.4 1077.1,314.9 1081.3,320.2 1085.6,328.7 1089.8,336.0 1095.0,336.7 1099.3,337.1 1104.6,340.3 1110.9,342.4 1117.2,343.2 1123.6,343.4 1127.8,341.3 1132.0,338.2 1137.3,329.7 1141.5,319.2 1145.7,306.5 1148.9,293.8 1153.1,289.6 1156.3,279.0 1159.4,266.4 1162.6,263.2" fill="none" stroke="#e8262a" stroke-width="1.35" stroke-linejoin="round"/>
<text transform="translate(820.4,379.5) rotate(-90)" font-size="2.8" fill="#555" style="font-weight:normal;font-family:'Liberation Sans',sans-serif">11/11/2020</text>
<text transform="translate(824.8,379.5) rotate(-90)" font-size="2.8" fill="#555" style="font-weight:normal;font-family:'Liberation Sans',sans-serif">11/15/2020</text>
<text transform="translate(829.2,379.5) rotate(-90)" font-size="2.8" fill="#555" style="font-weight:normal;font-family:'Liberation Sans',sans-serif">11/19/2020</text>
<text transform="translate(833.6,379.5) rotate(-90)" font-size="2.8" fill="#555" style="font-weight:normal;font-family:'Liberation Sans',sans-serif">11/23/2020</text>
<text transform="translate(837.9,379.5) rotate(-90)" font-size="2.8" fill="#555" style="font-weight:normal;font-family:'Liberation Sans',sans-serif">11/27/2020</text>
<text transform="translate(842.3,379.5) rotate(-90)" font-size="2.8" fill="#555" style="font-weight:normal;font-family:'Liberation Sans',sans-serif">12/1/2020</text>
<text transform="translate(846.7,379.5) rotate(-90)" font-size="2.8" fill="#555" style="font-weight:normal;font-family:'Liberation Sans',sans-serif">12/5/2020</text>
<text transform="translate(851.1,379.5) rotate(-90)" font-size="2.8" fill="#555" style="font-weight:normal;font-family:'Liberation Sans',sans-serif">12/9/2020</text>
<text transform="translate(855.5,379.5) rotate(-90)" font-size="2.8" fill="#555" style="font-weight:normal;font-family:'Liberation Sans',sans-serif">12/13/2020</text>
<text transform="translate(859.9,379.5) rotate(-90)" font-size="2.8" fill="#555" style="font-weight:normal;font-family:'Liberation Sans',sans-serif">12/17/2020</text>
<text transform="translate(864.2,379.5) rotate(-90)" font-size="2.8" fill="#555" style="font-weight:normal;font-family:'Liberation Sans',sans-serif">12/21/2020</text>
<text transform="translate(868.6,379.5) rotate(-90)" font-size="2.8" fill="#555" style="font-weight:normal;font-family:'Liberation Sans',sans-serif">12/25/2020</text>
<text transform="translate(873.0,379.5) rotate(-90)" font-size="2.8" fill="#555" style="font-weight:normal;font-family:'Liberation Sans',sans-serif">12/29/2020</text>
<text transform="translate(877.4,379.5) rotate(-90)" font-size="2.8" fill="#555" style="font-weight:normal;font-family:'Liberation Sans',sans-serif">1/2/2021</text>
<text transform="translate(881.8,379.5) rotate(-90)" font-size="2.8" fill="#555" style="font-weight:normal;font-family:'Liberation Sans',sans-serif">1/6/2021</text>
<text transform="translate(886.2,379.5) rotate(-90)" font-size="2.8" fill="#555" style="font-weight:normal;font-family:'Liberation Sans',sans-serif">1/10/2021</text>
<text transform="translate(890.6,379.5) rotate(-90)" font-size="2.8" fill="#555" style="font-weight:normal;font-family:'Liberation Sans',sans-serif">1/14/2021</text>
<text transform="translate(894.9,379.5) rotate(-90)" font-size="2.8" fill="#555" style="font-weight:normal;font-family:'Liberation Sans',sans-serif">1/18/2021</text>
<text transform="translate(899.3,379.5) rotate(-90)" font-size="2.8" fill="#555" style="font-weight:normal;font-family:'Liberation Sans',sans-serif">1/22/2021</text>
<text transform="translate(903.7,379.5) rotate(-90)" font-size="2.8" fill="#555" style="font-weight:normal;font-family:'Liberation Sans',sans-serif">1/26/2021</text>
<text transform="translate(908.1,379.5) rotate(-90)" font-size="2.8" fill="#555" style="font-weight:normal;font-family:'Liberation Sans',sans-serif">1/30/2021</text>
<text transform="translate(912.5,379.5) rotate(-90)" font-size="2.8" fill="#555" style="font-weight:normal;font-family:'Liberation Sans',sans-serif">2/3/2021</text>
<text transform="translate(916.9,379.5) rotate(-90)" font-size="2.8" fill="#555" style="font-weight:normal;font-family:'Liberation Sans',sans-serif">2/7/2021</text>
<text transform="translate(921.2,379.5) rotate(-90)" font-size="2.8" fill="#555" style="font-weight:normal;font-family:'Liberation Sans',sans-serif">2/11/2021</text>
<text transform="translate(925.6,379.5) rotate(-90)" font-size="2.8" fill="#555" style="font-weight:normal;font-family:'Liberation Sans',sans-serif">2/15/2021</text>
<text transform="translate(930.0,379.5) rotate(-90)" font-size="2.8" fill="#555" style="font-weight:normal;font-family:'Liberation Sans',sans-serif">2/19/2021</text>
<text transform="translate(934.4,379.5) rotate(-90)" font-size="2.8" fill="#555" style="font-weight:normal;font-family:'Liberation Sans',sans-serif">2/23/2021</text>
<text transform="translate(938.8,379.5) rotate(-90)" font-size="2.8" fill="#555" style="font-weight:normal;font-family:'Liberation Sans',sans-serif">2/27/2021</text>
<text transform="translate(943.2,379.5) rotate(-90)" font-size="2.8" fill="#555" style="font-weight:normal;font-family:'Liberation Sans',sans-serif">3/3/2021</text>
<text transform="translate(947.6,379.5) rotate(-90)" font-size="2.8" fill="#555" style="font-weight:normal;font-family:'Liberation Sans',sans-serif">3/7/2021</text>
<text transform="translate(951.9,379.5) rotate(-90)" font-size="2.8" fill="#555" style="font-weight:normal;font-family:'Liberation Sans',sans-serif">3/11/2021</text>
<text transform="translate(956.3,379.5) rotate(-90)" font-size="2.8" fill="#555" style="font-weight:normal;font-family:'Liberation Sans',sans-serif">3/15/2021</text>
<text transform="translate(960.7,379.5) rotate(-90)" font-size="2.8" fill="#555" style="font-weight:normal;font-family:'Liberation Sans',sans-serif">3/19/2021</text>
<text transform="translate(965.1,379.5) rotate(-90)" font-size="2.8" fill="#555" style="font-weight:normal;font-family:'Liberation Sans',sans-serif">3/23/2021</text>
<text transform="translate(969.5,379.5) rotate(-90)" font-size="2.8" fill="#555" style="font-weight:normal;font-family:'Liberation Sans',sans-serif">3/27/2021</text>
<text transform="translate(973.9,379.5) rotate(-90)" font-size="2.8" fill="#555" style="font-weight:normal;font-family:'Liberation Sans',sans-serif">3/31/2021</text>
<text transform="translate(978.2,379.5) rotate(-90)" font-size="2.8" fill="#555" style="font-weight:normal;font-family:'Liberation Sans',sans-serif">4/4/2021</text>
<text transform="translate(982.6,379.5) rotate(-90)" font-size="2.8" fill="#555" style="font-weight:normal;font-family:'Liberation Sans',sans-serif">4/8/2021</text>
<text transform="translate(987.0,379.5) rotate(-90)" font-size="2.8" fill="#555" style="font-weight:normal;font-family:'Liberation Sans',sans-serif">4/12/2021</text>
<text transform="translate(991.4,379.5) rotate(-90)" font-size="2.8" fill="#555" style="font-weight:normal;font-family:'Liberation Sans',sans-serif">4/16/2021</text>
<text transform="translate(995.8,379.5) rotate(-90)" font-size="2.8" fill="#555" style="font-weight:normal;font-family:'Liberation Sans',sans-serif">4/20/2021</text>
<text transform="translate(1000.2,379.5) rotate(-90)" font-size="2.8" fill="#555" style="font-weight:normal;font-family:'Liberation Sans',sans-serif">4/24/2021</text>
<text transform="translate(1004.6,379.5) rotate(-90)" font-size="2.8" fill="#555" style="font-weight:normal;font-family:'Liberation Sans',sans-serif">4/28/2021</text>
<text transform="translate(1008.9,379.5) rotate(-90)" font-size="2.8" fill="#555" style="font-weight:normal;font-family:'Liberation Sans',sans-serif">5/2/2021</text>
<text transform="translate(1013.3,379.5) rotate(-90)" font-size="2.8" fill="#555" style="font-weight:normal;font-family:'Liberation Sans',sans-serif">5/6/2021</text>
<text transform="translate(1017.7,379.5) rotate(-90)" font-size="2.8" fill="#555" style="font-weight:normal;font-family:'Liberation Sans',sans-serif">5/10/2021</text>
<text transform="translate(1022.1,379.5) rotate(-90)" font-size="2.8" fill="#555" style="font-weight:normal;font-family:'Liberation Sans',sans-serif">5/14/2021</text>
<text transform="translate(1026.5,379.5) rotate(-90)" font-size="2.8" fill="#555" style="font-weight:normal;font-family:'Liberation Sans',sans-serif">5/18/2021</text>
<text transform="translate(1030.9,379.5) rotate(-90)" font-size="2.8" fill="#555" style="font-weight:normal;font-family:'Liberation Sans',sans-serif">5/22/2021</text>
<text transform="translate(1035.2,379.5) rotate(-90)" font-size="2.8" fill="#555" style="font-weight:normal;font-family:'Liberation Sans',sans-serif">5/26/2021</text>
<text transform="translate(1039.6,379.5) rotate(-90)" font-size="2.8" fill="#555" style="font-weight:normal;font-family:'Liberation Sans',sans-serif">5/30/2021</text>
<text transform="translate(1044.0,379.5) rotate(-90)" font-size="2.8" fill="#555" style="font-weight:normal;font-family:'Liberation Sans',sans-serif">6/3/2021</text>
<text transform="translate(1048.4,379.5) rotate(-90)" font-size="2.8" fill="#555" style="font-weight:normal;font-family:'Liberation Sans',sans-serif">6/7/2021</text>
<text transform="translate(1052.8,379.5) rotate(-90)" font-size="2.8" fill="#555" style="font-weight:normal;font-family:'Liberation Sans',sans-serif">6/11/2021</text>
<text transform="translate(1057.2,379.5) rotate(-90)" font-size="2.8" fill="#555" style="font-weight:normal;font-family:'Liberation Sans',sans-serif">6/15/2021</text>
<text transform="translate(1061.6,379.5) rotate(-90)" font-size="2.8" fill="#555" style="font-weight:normal;font-family:'Liberation Sans',sans-serif">6/19/2021</text>
<text transform="translate(1065.9,379.5) rotate(-90)" font-size="2.8" fill="#555" style="font-weight:normal;font-family:'Liberation Sans',sans-serif">6/23/2021</text>
<text transform="translate(1070.3,379.5) rotate(-90)" font-size="2.8" fill="#555" style="font-weight:normal;font-family:'Liberation Sans',sans-serif">6/27/2021</text>
<text transform="translate(1074.7,379.5) rotate(-90)" font-size="2.8" fill="#555" style="font-weight:normal;font-family:'Liberation Sans',sans-serif">7/1/2021</text>
<text transform="translate(1079.1,379.5) rotate(-90)" font-size="2.8" fill="#555" style="font-weight:normal;font-family:'Liberation Sans',sans-serif">7/5/2021</text>
<text transform="translate(1083.5,379.5) rotate(-90)" font-size="2.8" fill="#555" style="font-weight:normal;font-family:'Liberation Sans',sans-serif">7/9/2021</text>
<text transform="translate(1087.9,379.5) rotate(-90)" font-size="2.8" fill="#555" style="font-weight:normal;font-family:'Liberation Sans',sans-serif">7/13/2021</text>
<text transform="translate(1092.2,379.5) rotate(-90)" font-size="2.8" fill="#555" style="font-weight:normal;font-family:'Liberation Sans',sans-serif">7/17/2021</text>
<text transform="translate(1096.6,379.5) rotate(-90)" font-size="2.8" fill="#555" style="font-weight:normal;font-family:'Liberation Sans',sans-serif">7/21/2021</text>
<text transform="translate(1101.0,379.5) rotate(-90)" font-size="2.8" fill="#555" style="font-weight:normal;font-family:'Liberation Sans',sans-serif">7/25/2021</text>
<text transform="translate(1105.4,379.5) rotate(-90)" font-size="2.8" fill="#555" style="font-weight:normal;font-family:'Liberation Sans',sans-serif">7/29/2021</text>
<text transform="translate(1109.8,379.5) rotate(-90)" font-size="2.8" fill="#555" style="font-weight:normal;font-family:'Liberation Sans',sans-serif">8/2/2021</text>
<text transform="translate(1114.2,379.5) rotate(-90)" font-size="2.8" fill="#555" style="font-weight:normal;font-family:'Liberation Sans',sans-serif">8/6/2021</text>
<text transform="translate(1118.6,379.5) rotate(-90)" font-size="2.8" fill="#555" style="font-weight:normal;font-family:'Liberation Sans',sans-serif">8/10/2021</text>
<text transform="translate(1122.9,379.5) rotate(-90)" font-size="2.8" fill="#555" style="font-weight:normal;font-family:'Liberation Sans',sans-serif">8/14/2021</text>
<text transform="translate(1127.3,379.5) rotate(-90)" font-size="2.8" fill="#555" style="font-weight:normal;font-family:'Liberation Sans',sans-serif">8/18/2021</text>
<text transform="translate(1131.7,379.5) rotate(-90)" font-size="2.8" fill="#555" style="font-weight:normal;font-family:'Liberation Sans',sans-serif">8/22/2021</text>
<text transform="translate(1136.1,379.5) rotate(-90)" font-size="2.8" fill="#555" style="font-weight:normal;font-family:'Liberation Sans',sans-serif">8/26/2021</text>
<text transform="translate(1140.5,379.5) rotate(-90)" font-size="2.8" fill="#555" style="font-weight:normal;font-family:'Liberation Sans',sans-serif">8/30/2021</text>
<text transform="translate(1144.9,379.5) rotate(-90)" font-size="2.8" fill="#555" style="font-weight:normal;font-family:'Liberation Sans',sans-serif">9/3/2021</text>
<text transform="translate(1149.2,379.5) rotate(-90)" font-size="2.8" fill="#555" style="font-weight:normal;font-family:'Liberation Sans',sans-serif">9/7/2021</text>
<text transform="translate(1153.6,379.5) rotate(-90)" font-size="2.8" fill="#555" style="font-weight:normal;font-family:'Liberation Sans',sans-serif">9/11/2021</text>
<text transform="translate(1158.0,379.5) rotate(-90)" font-size="2.8" fill="#555" style="font-weight:normal;font-family:'Liberation Sans',sans-serif">9/15/2021</text>
<text transform="translate(1162.4,379.5) rotate(-90)" font-size="2.8" fill="#555" style="font-weight:normal;font-family:'Liberation Sans',sans-serif">9/19/2021</text>
<rect x="927" y="393.1" width="5" height="1.2" fill="#4472c4"/>
<text x="932.8" y="394.6" font-size="2.7" fill="#6a6a6a" style="font-weight:normal;font-family:'Liberation Sans',sans-serif;">Шинэ батлагдсан тохиолдол</text>
<rect x="977" y="393.3" width="6" height="0.9" fill="#e8262a"/>
<text x="983.8" y="394.6" font-size="2.7" fill="#6a6a6a" style="font-weight:normal;font-family:'Liberation Sans',sans-serif;">7 per. Mov. Avg. (Шинэ батлагдсан тохиолдол)</text>
</g>
<g id="icons">
<g id="soyombo" fill="#f8ce12">
<path d="M85.6 50.2c1.8 2.2 2.8 3.4 2.8 4.8a2.8 2.8 0 0 1-5.6 0c0-1.4 1-2.6 2.8-4.8z"/>
<circle cx="85.6" cy="62" r="4.1"/>
<path d="M80.2 64.6c1.2 2.4 3 3.6 5.4 3.6s4.2-1.200 5.400-3.600c-.6 3.200-2.600 5-5.400 5s-4.800-1.800-5.400-5z"/>
<path d="M81.700 69.600h7.800l-3.900 2.600z"/>
<rect x="80.800" y="73.100" width="9.600" height="2.200"/>
<circle cx="85.600" cy="80.700" r="4.600"/>
<rect x="80.800" y="86.300" width="9.600" height="2.100"/>
<path d="M81.700 89.200h7.800l-3.900 2.600z"/>
<rect x="75" y="69.200" width="4.700" height="23"/>
<rect x="91.500" y="69.200" width="4.700" height="23"/>
<path d="M85.600 76.500a2.100 2.100 0 0 1 0 4.200a2.100 2.100 0 0 0 0 4.200" fill="none" stroke="#0b4aa6" stroke-width="0.700"/>
<circle cx="85.600" cy="78.600" r=".7" fill="#0b4aa6"/><circle cx="85.600" cy="82.800" r=".7" fill="#0b4aa6"/>
<circle cx="85.600" cy="62" r="1.500" fill="none" stroke="#d9a90c" stroke-width=".5"/>
</g>
<g id="ic-lungs" fill="#fff">
<path d="M77.6 234c-2.400 0-4.300 2.800-5.900 6.800c-1.600 4-2.700 7.400-2.500 9.400c.2 2.200 1.700 2.400 3.800 2c3-.6 6-1.500 7-2.600l0-11.800c0-2.400-.9-3.800-2.400-3.800z"/>
<path d="M88.600 234c2.400 0 4.300 2.800 5.900 6.800c1.600 4 2.700 7.400 2.500 9.400c-.2 2.200-1.700 2.400-3.800 2c-3-.6-6-1.500-7-2.600l0-11.800c0-2.400.9-3.800 2.400-3.800z"/>
<rect x="82" y="229.800" width="2.300" height="7" rx=".6"/>
<circle cx="83.100" cy="244" r="7.700" fill="#1f497d"/>
<path d="M81.40 247.36L82.00 250.10L84.20 250.10L84.80 247.36ZM83.10 250.10m-1.10 0a1.10 1.10 0 1 0 2.20 0a1.10 1.10 0 1 0 -2.20 0zM79.52 245.17L78.01 247.54L79.56 249.09L81.93 247.58ZM78.79 248.31m-1.10 0a1.10 1.10 0 1 0 2.20 0a1.10 1.10 0 1 0 -2.20 0zM79.74 242.30L77.00 242.90L77.00 245.10L79.74 245.70ZM77.00 244.00m-1.10 0a1.10 1.10 0 1 0 2.20 0a1.10 1.10 0 1 0 -2.20 0zM81.93 240.42L79.56 238.91L78.01 240.46L79.52 242.83ZM78.79 239.69m-1.10 0a1.10 1.10 0 1 0 2.20 0a1.10 1.10 0 1 0 -2.20 0zM84.80 240.64L84.20 237.90L82.00 237.90L81.40 240.64ZM83.10 237.90m-1.10 0a1.10 1.10 0 1 0 2.20 0a1.10 1.10 0 1 0 -2.20 0zM86.68 242.83L88.19 240.46L86.64 238.91L84.27 240.42ZM87.41 239.69m-1.10 0a1.10 1.10 0 1 0 2.20 0a1.10 1.10 0 1 0 -2.20 0zM86.46 245.70L89.20 245.10L89.20 242.90L86.46 242.30ZM89.20 244.00m-1.10 0a1.10 1.10 0 1 0 2.20 0a1.10 1.10 0 1 0 -2.20 0zM84.27 247.58L86.64 249.09L88.19 247.54L86.68 245.17ZM87.41 248.31m-1.10 0a1.10 1.10 0 1 0 2.20 0a1.10 1.10 0 1 0 -2.20 0z" fill="#fff"/>
<circle cx="83.10" cy="244.00" r="4.20" fill="#fff"/>
<circle cx="81.900" cy="243" r=".8" fill="#1f497d"/><circle cx="84.400" cy="245.300" r=".55" fill="#1f497d"/>
</g>
<g fill="none" stroke="#dbe7f9" stroke-width="1.35" stroke-linecap="round" stroke-linejoin="round">
<circle cx="197.0" cy="241.4" r="12.6"/>
<ellipse cx="197.0" cy="238.0" rx="3.5" ry="4.4" stroke-width="1.15"/>
<path d="M193.8 236.8q3.3 -1.6 6.4 0" stroke-width="0.9"/>
<path d="M197.0 242.4v2.2" stroke-width="1.6"/>
<path d="M190.4 250.0v-2.3q0 -3 3 -3h7.2q3 0 3 3v2.3z" stroke-width="1.15"/>
<circle cx="205.7" cy="232.7" r="4.2" fill="#1f497d" stroke-width="1.1"/>
<path d="M203.5 232.7h4.4" stroke-width="1.3"/>
</g>
<g fill="none" stroke="#82d555" stroke-width="1.35" stroke-linecap="round" stroke-linejoin="round">
<circle cx="313.7" cy="242.0" r="12.6"/>
<ellipse cx="313.7" cy="238.6" rx="3.5" ry="4.4" stroke-width="1.15"/>
<path d="M310.5 237.4q3.3 -1.6 6.4 0" stroke-width="0.9"/>
<path d="M313.7 243.0v2.2" stroke-width="1.6"/>
<path d="M307.1 250.6v-2.3q0 -3 3 -3h7.2q3 0 3 3v2.3z" stroke-width="1.15"/>
<circle cx="322.4" cy="233.3" r="4.2" fill="#1f497d" stroke-width="1.1"/>
<path d="M320.2 233.3h4.4" stroke-width="1.3"/>
<path d="M322.4 231.1v4.4" stroke-width="1.3"/>
</g>
<g fill="none" stroke="#dbe7f9" stroke-width="1.35" stroke-linecap="round" stroke-linejoin="round">
<circle cx="288.7" cy="550.4" r="12.6"/>
<ellipse cx="288.7" cy="547.0" rx="3.5" ry="4.4" stroke-width="1.15"/>
<path d="M285.5 545.8q3.3 -1.6 6.4 0" stroke-width="0.9"/>
<path d="M288.7 551.4v2.2" stroke-width="1.6"/>
<path d="M282.1 559.0v-2.3q0 -3 3 -3h7.2q3 0 3 3v2.3z" stroke-width="1.15"/>
<circle cx="297.4" cy="541.7" r="4.2" fill="#1f497d" stroke-width="1.1"/>
<path d="M295.2 541.7h4.4" stroke-width="1.3"/>
</g>
<path id="ic-plane" fill="#fff" stroke="#fff" stroke-width=".8" stroke-linejoin="round" d="M92.700 293.200L85 297.900L71.300 297.700L70.900 299.200L80 303.900L76.500 307.600L71.100 308.700L70.900 310.200L75.600 311.600L77 316.800L79.500 317.300L79.300 312L83.500 307.700L89.500 315.700L91.100 315L89.200 302.500L92.900 296.200C93.500 294.600 93.500 293.600 92.700 293.200Z"/>
<g id="ic-statue" fill="#fff">
<path d="M184.200 313.600L184.600 309.600C186 307 188 305.600 190.200 305.200L204.800 305.200C206.600 306.600 208.600 310 209.900 313.600Z"/>
<path d="M189.100 291.600L189.900 290.500L192.400 292.600L193.600 290.200L194.600 289.400L195 287.700L196.700 288.100L196.700 290.400L198.900 291.800L198.500 294L200.600 296.400L202.700 299.400L204.200 302.400L205.400 305.400L201.800 305.600L200.600 303.800L198.600 302.700L196 302.200L193.600 302.400L191.600 304.800L190.300 304.200L191.400 300.400L190.100 298.300L187.700 299.700L186.100 301.800L185.300 300.500L186.700 297.800L188 295.700L186.500 295.500L186.100 294L187.600 292.500Z"/>
<path d="M189.500 287.700L193.500 292.700" stroke="#fff" stroke-width=".7"/>
</g>
<path id="ic-mongolia" fill="#fff" d="M296.3 302.5L296.8 302.0L297.6 301.7L298.2 301.5L298.5 301.1L298.8 300.8L299.8 300.4L300.5 299.9L301.1 299.7L301.3 299.8L301.5 299.7L301.8 299.9L303.0 300.1L303.3 300.7L303.8 301.0L304.4 301.4L305.1 301.1L305.9 301.4L306.3 301.1L306.9 300.9L307.2 300.5L307.1 300.0L306.8 299.5L306.9 298.9L307.3 298.5L307.6 297.9L307.9 297.5L308.2 297.7L309.0 298.0L309.6 298.1L310.4 298.4L311.2 298.7L311.3 299.3L311.4 299.8L311.3 300.4L311.9 300.6L312.7 300.7L313.7 300.5L313.7 300.6L313.8 300.4L314.4 300.2L315.0 300.3L315.8 300.2L316.4 300.5L316.9 300.9L317.4 301.4L317.8 301.9L317.9 302.2L318.5 302.1L319.3 302.2L320.1 302.3L320.9 302.1L321.7 301.9L322.0 301.6L322.8 301.1L323.4 300.7L324.0 300.5L324.7 300.7L325.5 301.0L326.3 301.1L326.2 301.6L325.9 302.2L325.6 302.9L325.4 303.6L325.3 304.2L325.9 304.4L326.7 304.5L327.3 304.3L328.0 304.2L328.6 304.7L329.2 305.2L329.7 305.7L329.6 306.2L329.0 306.1L328.2 306.2L327.7 306.4L327.1 306.6L326.5 306.7L326.2 306.8L325.9 307.2L325.4 307.7L324.7 308.1L324.0 308.4L323.4 308.8L322.8 308.9L322.3 308.6L321.7 308.5L321.3 308.9L321.1 309.5L321.4 310.0L321.4 310.4L320.9 310.8L320.1 311.2L319.5 311.6L318.9 312.0L318.1 312.1L317.4 312.4L316.6 312.6L315.8 312.7L315.0 312.9L314.3 313.3L313.7 313.2L312.9 313.0L312.1 312.8L311.2 312.5L310.4 312.1L309.6 312.1L309.0 312.0L308.5 311.6L308.0 311.8L307.3 311.8L306.7 311.7L305.3 311.8L304.9 311.0L304.5 310.2L304.2 309.6L303.4 309.4L302.8 309.0L302.2 308.6L301.8 308.5L301.1 308.4L300.3 308.3L299.5 308.1L299.4 307.5L299.7 307.0L299.6 306.4L300.4 306.2L300.0 306.1L299.6 305.4L299.2 304.8L298.8 304.4L298.1 304.1L297.6 303.6L296.8 303.3L296.5 302.9Z"/>
<g id="ic-hospital" fill="none" stroke="#dbe7f9" stroke-width="1.1" stroke-linejoin="round">
<path d="M74.500 484.200V457.500H89.200V484.200"/>
<path d="M74.500 465.300H67.300V484.200H96.400V465.300H89.200"/>
<path d="M78.500 484.200V478.200H85.200V484.200M81.850 478.500V484"/>
<path d="M80.600 459.900V463.700M83.200 459.900V463.700M80.600 461.800H83.200" stroke-width=".9"/>
<rect x="76.5" y="466.0" width="3.900" height="3.900" rx=".5" stroke-width="1"/>
<rect x="82.6" y="466.0" width="3.900" height="3.900" rx=".5" stroke-width="1"/>
<rect x="76.5" y="471.8" width="3.900" height="3.900" rx=".5" stroke-width="1"/>
<rect x="82.6" y="471.8" width="3.900" height="3.900" rx=".5" stroke-width="1"/>
<rect x="68.9" y="466.9" width="3.900" height="3.900" rx=".5" stroke-width="1"/>
<rect x="68.9" y="472.7" width="3.900" height="3.900" rx=".5" stroke-width="1"/>
<rect x="68.9" y="478.5" width="3.900" height="3.900" rx=".5" stroke-width="1"/>
<rect x="90.6" y="466.9" width="3.900" height="3.900" rx=".5" stroke-width="1"/>
<rect x="90.6" y="472.7" width="3.900" height="3.900" rx=".5" stroke-width="1"/>
<rect x="90.6" y="478.5" width="3.900" height="3.900" rx=".5" stroke-width="1"/>
</g>
<g id="ic-baby" fill="none" stroke="#dbe7f9" stroke-width="1.15" stroke-linecap="round">
<path d="M187.800 471.300A10.900 11.300 0 0 1 209.400 471.300C211.600 470.600 213.200 472 213.200 473.800C213.200 475.800 211.600 477.200 209.400 476.700A10.900 11.300 0 0 1 187.800 476.700C185.600 477.200 184 475.800 184 473.800C184 472 185.600 470.600 187.800 471.300Z"/>
<path d="M198.600 463.100C196.400 462.400 195.800 460.200 197 458.600C198.400 456.900 201.200 457.300 201.800 459.300C202.300 461 200.600 462 199.500 461.200C198.600 460.500 199.200 459.400 200 459.600"/>
<path d="M195.200 479.600Q198.600 482 202 479.600"/>
<circle cx="195.400" cy="475.600" r="1.200" fill="#dbe7f9" stroke="none"/><circle cx="202.200" cy="475.600" r="1.200" fill="#dbe7f9" stroke="none"/>
</g>
<g id="ic-pregnant" fill="#fff">
<circle cx="312.900" cy="459.100" r="4.200"/><circle cx="316.900" cy="455.400" r="1.700"/>
<path d="M313 464.600C315.500 464.600 316.900 466 316.900 468.500L316.900 485L305.600 485C303.500 482.500 302.600 480.500 302.800 478C303 475 305 473 307 471.500C308.500 469 309.500 466.500 311 465.200C311.600 464.800 312.300 464.600 313 464.600Z"/>
<path d="M314.400 468.600C314 472 312 474.500 310 475.800C308.500 476.800 307 477.200 306.200 476.600C305.300 475.600 305.500 474.200 306.500 473.400" fill="none" stroke="#1f497d" stroke-width=".75" stroke-linecap="round"/>
</g>
<g id="ic-house">
<path fill="#fff" stroke="#fff" stroke-width=".8" stroke-linejoin="round" d="M132.800 534.800L139.800 540.600L139.800 536.500L144.600 536.500L144.600 544.600L147.800 547.400L147 548.600L144.600 548.100L144.600 561.500L121 561.500L121 548.100L118.600 548.600L117.800 547.400Z"/>
<circle cx="133" cy="547.400" r="3.200" fill="#1f497d"/>
<path d="M126.600 557.800C126.600 554.600 129 552.400 133 552.400C137 552.400 139.400 554.600 139.400 557.800Z" fill="#1f497d"/>
</g>
<g id="ic-female" fill="none" stroke="#cfdff6" stroke-width="1.350" stroke-linejoin="round" stroke-linecap="round">
<circle cx="146.500" cy="701.200" r="15.800"/>
<path d="M136.200 712.700L143.400 708.900L136.200 706.900C138 704.200 139.600 701 140 698.200C140.400 694 142.400 690.400 146.500 690.400C150.600 690.400 152.600 694 153 698.200C153.400 701 155 704.200 156.800 706.900L149.600 708.900L156.800 712.700"/>
</g>
<g id="ic-male" fill="none" stroke="#cfdff6" stroke-width="1.350" stroke-linejoin="round" stroke-linecap="round">
<circle cx="288.100" cy="700.500" r="15.800"/>
<path d="M278.800 712.300L284.600 708.600L284.600 706C283.200 704.600 282.400 702.800 282.200 701C281.200 700.600 281 698.800 282 698.200L282.200 694.400C282.400 691.200 284.800 689.400 288.100 689.400C291.400 689.400 293.800 691.200 294 694.400L294.200 698.200C295.200 698.800 295 700.600 294 701C293.800 702.800 293 704.600 291.600 706L291.600 708.600L297.400 712.300"/>
</g>
<g id="age-circles" fill="none" stroke="#cfdff6" stroke-width="1.200">
<circle cx="146.7" cy="749.200" r="16.200"/>
<circle cx="201.5" cy="749.200" r="16.200"/>
<circle cx="257.0" cy="749.200" r="16.200"/>
<circle cx="310.6" cy="749.200" r="16.200"/>
<circle cx="364.8" cy="749.200" r="16.200"/>
</g>
<g id="ic-heartbeat">
<path fill="#fff" d="M150.500 825.200C146 821.500 138 816 136.400 810C135 804 138.500 799.400 143.300 799.400C146.500 799.400 149 800.800 150.500 803C152 800.800 154.500 799.400 157.700 799.400C162.500 799.400 166 804 164.600 810C163 816 155 821.500 150.500 825.200Z"/>
<path fill="none" stroke="#1d3f70" stroke-width="1.250" stroke-linejoin="round" d="M135.800 812.300H143.200L145 805.600L148.800 818.800L151.200 812.300H154L156.400 805.200L158.400 812.300H165.400"/>
</g>
<g id="ic-virus">
<path d="M288.20 819.78L289.20 825.50L292.60 825.50L293.60 819.78ZM290.90 825.50m-1.70 0a1.70 1.70 0 1 0 3.40 0a1.70 1.70 0 1 0 -3.40 0zM283.56 815.62L280.22 820.37L282.63 822.78L287.38 819.44ZM281.42 821.58m-1.70 0a1.70 1.70 0 1 0 3.40 0a1.70 1.70 0 1 0 -3.40 0zM283.22 809.40L277.50 810.40L277.50 813.80L283.22 814.80ZM277.50 812.10m-1.70 0a1.70 1.70 0 1 0 3.40 0a1.70 1.70 0 1 0 -3.40 0zM287.38 804.76L282.63 801.42L280.22 803.83L283.56 808.58ZM281.42 802.62m-1.70 0a1.70 1.70 0 1 0 3.40 0a1.70 1.70 0 1 0 -3.40 0zM293.60 804.42L292.60 798.70L289.20 798.70L288.20 804.42ZM290.90 798.70m-1.70 0a1.70 1.70 0 1 0 3.40 0a1.70 1.70 0 1 0 -3.40 0zM298.24 808.58L301.58 803.83L299.17 801.42L294.42 804.76ZM300.38 802.62m-1.70 0a1.70 1.70 0 1 0 3.40 0a1.70 1.70 0 1 0 -3.40 0zM298.58 814.80L304.30 813.80L304.30 810.40L298.58 809.40ZM304.30 812.10m-1.70 0a1.70 1.70 0 1 0 3.40 0a1.70 1.70 0 1 0 -3.40 0zM294.42 819.44L299.17 822.78L301.58 820.37L298.24 815.62ZM300.38 821.58m-1.70 0a1.70 1.70 0 1 0 3.40 0a1.70 1.70 0 1 0 -3.40 0z" fill="#fff"/>
<circle cx="290.90" cy="812.10" r="9.60" fill="#fff"/>
<circle cx="289" cy="810" r="2.500" fill="#1f497d"/><circle cx="293.600" cy="814.800" r="1.300" fill="#1f497d"/>
</g>
</g>
<g id="misc">
<path d="M491.00 692.40A55.60 55.60 0 1 1 437.42 733.14L449.27 736.43A43.30 43.30 0 1 0 491.00 704.70Z" fill="#fbc10f"/>
<path d="M437.42 733.14A55.60 55.60 0 0 1 491.00 692.40L491.00 704.70A43.30 43.30 0 0 0 449.27 736.43Z" fill="#fff"/>
<rect x="434.4" y="804" width="11.4" height="11.3" fill="#fbc10f"/>
<rect x="434.4" y="836" width="11.4" height="11.2" fill="#fff"/>
<path d="M554 753.400H574M574 688.600V838.300M574 688.6H594.500M574 713.5H594.500M574 738.4H594.500M574 763.3H594.500M574 788.2H594.500M574 813.1H594.500M574 838.3H594.500" fill="none" stroke="#c9a536" stroke-width="1"/>
<g id="cause-icons" fill="#fbc10f" stroke="none">
<path d="M603.800 681.600C602.400 683.400 600.800 686.400 600.800 689.600C600.800 694.600 604.200 698.400 608.400 698.400C612.600 698.400 615.500 694.400 615.500 689.400C615.500 686.400 614.600 683.600 613.600 682L613.200 677.800L611.600 678.200L611.400 681L610.200 680.600L609.800 677.400L608 677.600L608.200 681L606.600 681.200L605.800 678L604.200 678.600Z"/>
<path d="M608.600 686.200C609.400 689 610.800 691 613 691.800M609.200 687.600L611.600 687.200" fill="none" stroke="#20407a" stroke-width="1" stroke-linecap="round"/>
<path d="M602 710.600C601.400 708.600 603.200 707.400 605.400 707.600C609.800 708 612.200 711.200 615.200 713.400C617 714.800 619 715.600 620.200 716.400C618.200 717 615.200 716.400 612.800 714.800M602 710.600C603.600 713.600 606.600 716.600 609.400 719.200C611 720.800 613 722.400 614.600 723.400" fill="none" stroke="#b9b59c" stroke-width=".8" stroke-linecap="round"/>
<circle cx="605.400" cy="710.400" r=".9" fill="#b9b59c"/>
<path d="M608.400 728.800C610.400 728.800 611.400 731 611.200 733.800C611 736.600 609.800 738.600 607.800 738.600C605.800 738.600 604.600 736.200 604.800 733.400C605 730.600 606.400 728.800 608.400 728.800Z"/>
<path d="M617.800 728.800C615.800 728.800 614.800 731 615 733.800C615.200 736.600 616.400 738.600 618.400 738.600C620.400 738.600 621.600 736.200 621.400 733.400C621.200 730.600 619.800 728.800 617.800 728.800Z"/>
<path d="M610.600 733.600L612.600 737.600V741.200M615.600 733.600L613.600 737.600V741.200" fill="none" stroke="#fbc10f" stroke-width=".9"/>
<path d="M611.600 740.600H614.600L614.400 743.400L613.600 744.400V747.200H612.600V744.400L611.800 743.400Z"/>
<path d="M604.200 762.400C604 757.800 607 754.200 612 754C614.200 753.900 616 754.600 617.200 755.200C618.800 754.600 620.600 754.600 622 755.200C624.200 756.200 625.600 757.800 625.600 759C625.600 760.200 624 760.600 622.200 761.200C619.600 762.200 618 763 616.400 764.400C613.400 767 609.600 768.400 606.400 769.600C605 767.800 604.300 765.200 604.200 762.400Z"/>
<path d="M617.200 755.200C617.800 757.400 617.600 760.400 616.800 763.600" fill="none" stroke="#20407a" stroke-width=".6"/>
<g fill="none" stroke="#fbc10f" stroke-width=".95" stroke-linecap="round" stroke-linejoin="round">
<path d="M612.600 794.200C609 795 605.400 793.400 604.600 790.600C602.600 789.400 602.400 786.200 604.200 784.600C604.200 781.600 606.600 779.600 609.200 780C610.600 777.800 614.200 777.200 616.400 778.800C619.200 777.800 622.400 779.600 622.800 782.400C624.600 783.800 625 786.800 623.400 788.600C623.600 791 621.600 793 619.200 792.800C618 794.200 616 794.600 614.600 793.800"/>
<path d="M608.200 783.200C609.800 782.400 611.600 783 612.200 784.600M606.400 788C608 787 610 787.400 610.800 789M613.400 781.400C615 780.600 617 781.400 617.400 783.200C619.200 783 620.400 784.200 620.200 785.800M613 788.200C614.200 786.600 616.600 786.600 617.600 788.200C619.200 787.800 620.600 789 620.400 790.600M610.800 791.600C612 790.400 614 790.600 614.800 792"/>
</g>
<path d="M613.800 792.600C615.400 794.200 617 796.400 618.400 798.600L620.800 797.400C619.600 795.200 618 793.200 616.400 791.800Z"/>
<path d="M613.300 811L613 803.400M613.300 811L617.800 807.400M613.300 811L621.400 815.100M613.300 811L614 816M613.300 811L607.300 815.700M613.300 811L609.100 809.200" fill="none" stroke="#fbc10f" stroke-width="1.100"/>
<circle cx="613.3" cy="811.0" r="2.5"/>
<circle cx="613.0" cy="803.4" r="2.3"/>
<circle cx="617.8" cy="807.4" r="1.5"/>
<circle cx="621.4" cy="815.1" r="2.3"/>
<circle cx="614.0" cy="816.0" r="1.7"/>
<circle cx="607.3" cy="815.7" r="2.6"/>
<circle cx="609.1" cy="809.2" r="1.4"/>
<g fill="none" stroke="#e0ad2a" stroke-width=".85" stroke-linejoin="round" stroke-linecap="round">
<circle cx="613.400" cy="825.800" r="1.800"/>
<path d="M611.400 828.600C608.600 829.400 607 832 606.400 835.800L606.200 838.200L607.600 838.400L608.600 834.400C608.400 837 608.600 839.600 609.600 841.800L610.600 848H612.800L613.400 842.600L614 848H616.200L617.200 841.800C618.200 839.600 618.400 837 618.200 834.400L619.200 838.400L620.600 838.200L620.400 835.800C619.800 832 618.200 829.400 615.400 828.600Z"/>
</g>
</g>
<g id="ic-syringe" transform="translate(942.200 566) rotate(-44.600)" fill="#fff">
<rect x="-1.200" y="-11" width="2.300" height="22" rx=".6"/>
<rect x=".5" y="-6.500" width="79" height="13" rx="2"/>
<rect x="12.300" y="-10.600" width="3.200" height="21.200" rx="1.500"/>
<rect x="78" y="-3.400" width="12" height="6.800" rx="1.600"/>
<rect x="89" y="-.6" width="31.500" height="1.2" fill="#cfdcf3"/>
</g>
<path d="M1029.400 486.300C1030.800 489.400 1032.600 491.700 1032.600 493.900A3.200 3.300 0 0 1 1026.200 493.900C1026.200 491.700 1028 489.400 1029.400 486.300Z" fill="#fff"/>
</g>
</svg>
<div class="frame"></div>
</body></html>
